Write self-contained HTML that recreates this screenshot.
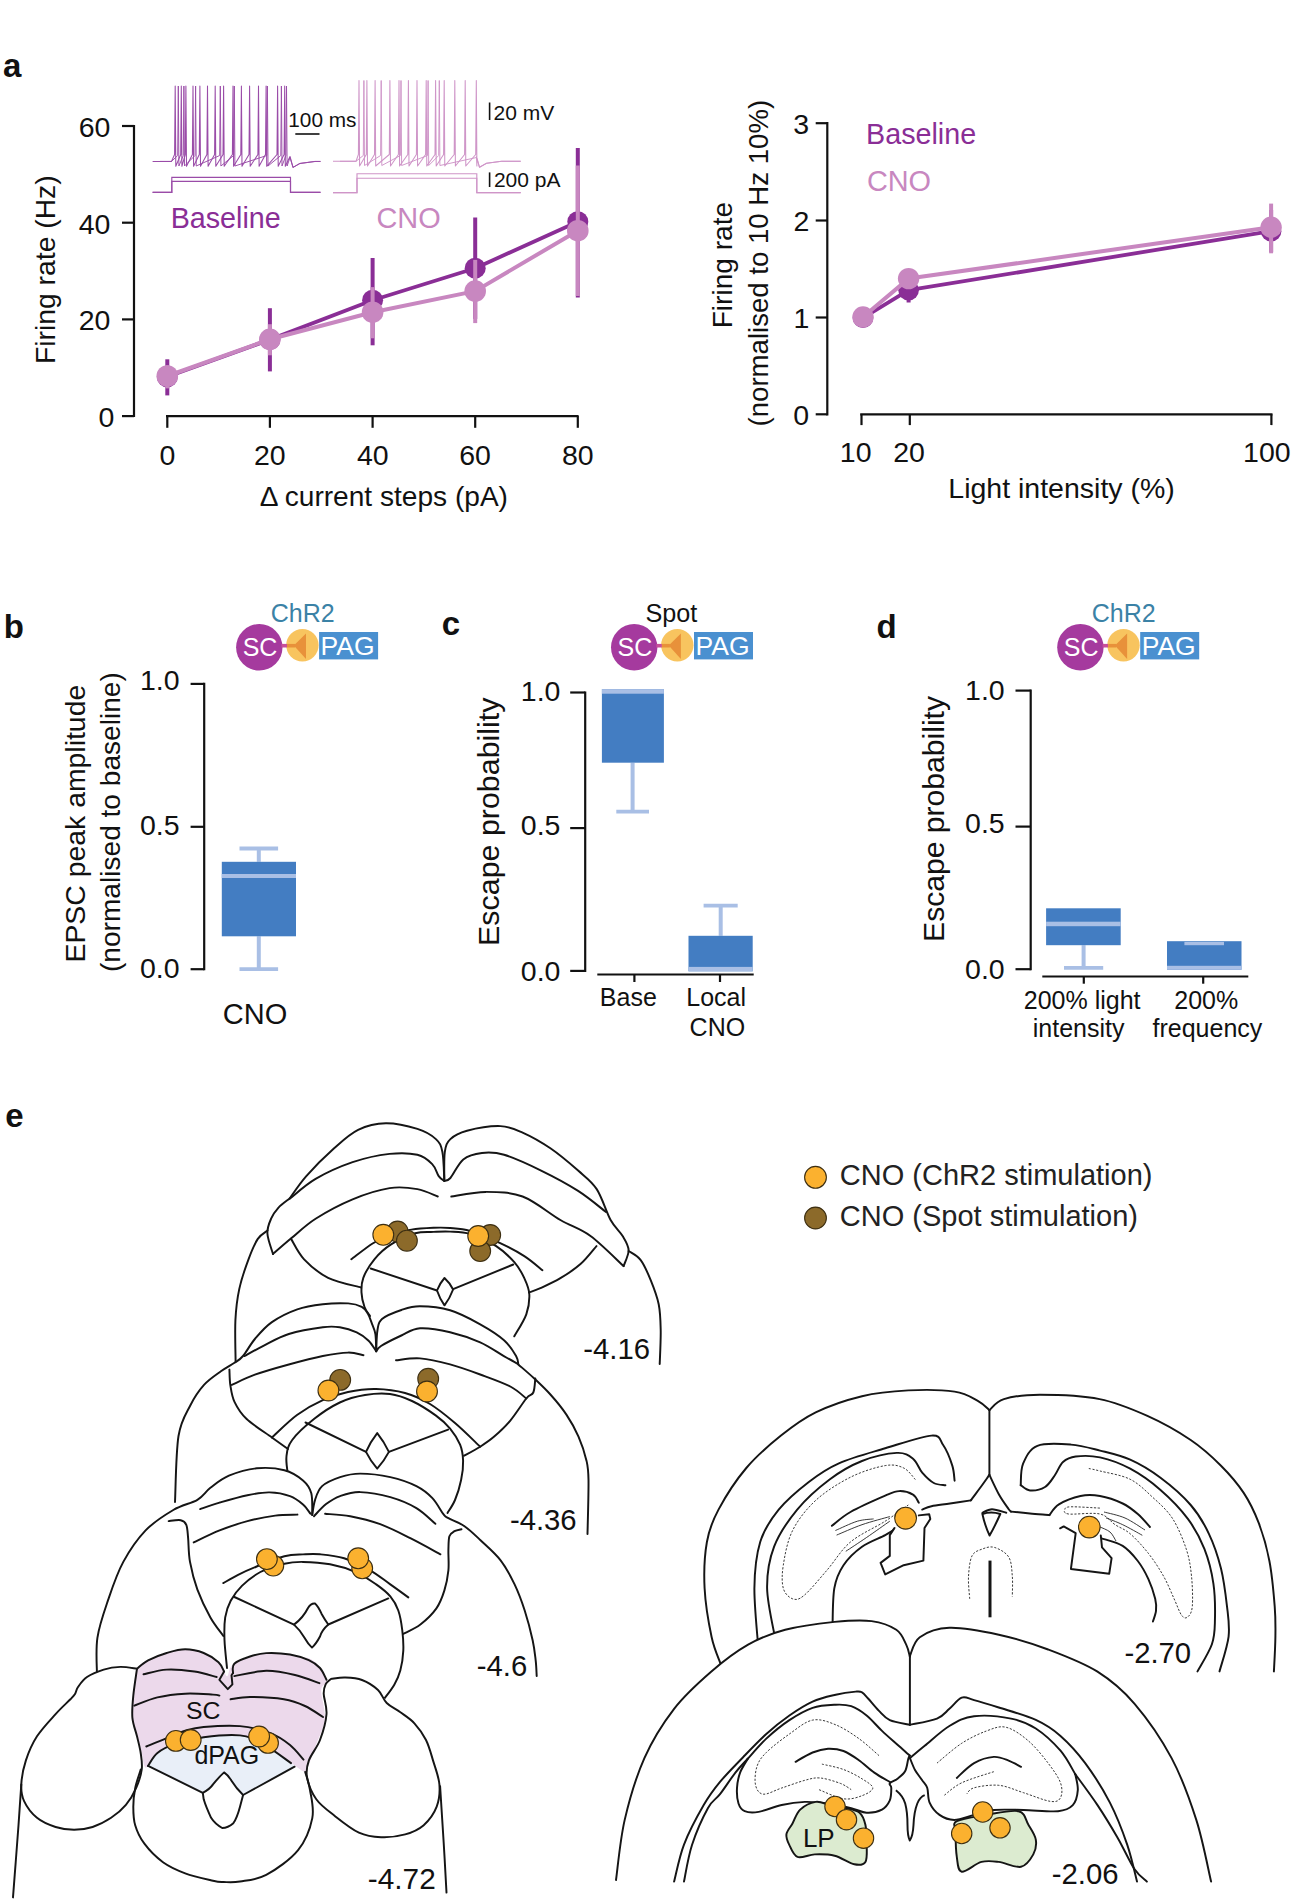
<!DOCTYPE html>
<html><head><meta charset="utf-8"><title>Figure</title>
<style>
html,body{margin:0;padding:0;background:#fff;}
svg{display:block;}
text{font-family:"Liberation Sans",sans-serif;}
</style></head><body>
<svg width="1296" height="1904" viewBox="0 0 1296 1904">
<rect width="1296" height="1904" fill="#fff"/>
<text x="2.9" y="76.9" font-size="33" text-anchor="start" fill="#111" font-weight="bold" >a</text>
<line x1="134" y1="125" x2="134" y2="417.1" stroke="#111" stroke-width="2.2" />
<line x1="122" y1="126" x2="134" y2="126" stroke="#111" stroke-width="2.2" />
<text x="78.7" y="136.9" font-size="28.5" text-anchor="start" fill="#111" >60</text>
<line x1="122" y1="222.7" x2="134" y2="222.7" stroke="#111" stroke-width="2.2" />
<text x="78.7" y="233.6" font-size="28.5" text-anchor="start" fill="#111" >40</text>
<line x1="122" y1="319.4" x2="134" y2="319.4" stroke="#111" stroke-width="2.2" />
<text x="78.7" y="330.3" font-size="28.5" text-anchor="start" fill="#111" >20</text>
<line x1="122" y1="416.1" x2="134" y2="416.1" stroke="#111" stroke-width="2.2" />
<text x="98.6" y="427" font-size="28.5" text-anchor="start" fill="#111" >0</text>
<line x1="166" y1="416.1" x2="578.6" y2="416.1" stroke="#111" stroke-width="2.2" />
<line x1="167.3" y1="416.1" x2="167.3" y2="427.8" stroke="#111" stroke-width="2.2" />
<text x="159.4" y="464.5" font-size="28.5" text-anchor="start" fill="#111" >0</text>
<line x1="269.9" y1="416.1" x2="269.9" y2="427.8" stroke="#111" stroke-width="2.2" />
<text x="253.9" y="464.5" font-size="28.5" text-anchor="start" fill="#111" >20</text>
<line x1="372.6" y1="416.1" x2="372.6" y2="427.8" stroke="#111" stroke-width="2.2" />
<text x="357" y="464.5" font-size="28.5" text-anchor="start" fill="#111" >40</text>
<line x1="475.2" y1="416.1" x2="475.2" y2="427.8" stroke="#111" stroke-width="2.2" />
<text x="459.2" y="464.5" font-size="28.5" text-anchor="start" fill="#111" >60</text>
<line x1="577.8" y1="416.1" x2="577.8" y2="427.8" stroke="#111" stroke-width="2.2" />
<text x="561.9" y="464.5" font-size="28.5" text-anchor="start" fill="#111" >80</text>
<text x="259.7" y="506.3" font-size="28.1" text-anchor="start" fill="#111" >Δ current steps (pA)</text>
<text x="54.7" y="364" font-size="28.3" text-anchor="start" fill="#111" transform="rotate(-90 54.7 364)" >Firing rate (Hz)</text>
<path d="M152.6 161.4 L171.5 161.4 L174.6 154.5 L175.2 86 L175.8 166.3 L180.7 154.5 L181.3 86 L181.9 166.3 L185.3 154.5 L185.9 86 L186.5 166.3 L192.4 154.5 L193 86 L193.6 166.3 L199.3 154.5 L199.9 86 L200.5 166.3 L206.9 154.5 L207.5 86 L208.1 166.3 L214.6 154.5 L215.2 86 L215.8 166.3 L223 154.5 L223.6 86 L224.2 166.3 L232.4 154.5 L233 86 L233.6 166.3 L240.8 154.5 L241.4 86 L242 166.3 L249 154.5 L249.6 86 L250.2 166.3 L257.9 154.5 L258.5 86 L259.1 166.3 L265.5 154.5 L266.1 86 L266.7 166.3 L277 154.5 L277.6 86 L278.2 166.3 L284.1 154.5 L284.7 86 L285.3 166.3 L290 156.5 L293 167.4 L300 163.4 L315 161.4 L320.5 161.4" fill="none" stroke="#9a4ca8" stroke-width="1.05" stroke-linejoin="round"/>
<path d="M160 161.4 L171.5 161.4 L177.7 155.5 L178.3 86 L178.9 166 L183.3 155.5 L183.9 86 L184.5 166 L195 155.5 L195.6 86 L196.2 166 L219.7 155.5 L220.3 86 L220.9 166 L233.7 155.5 L234.3 86 L234.9 166 L266.8 155.5 L267.4 86 L268 166 L280.8 155.5 L281.4 86 L282 166 L285.9 155.5 L286.5 86 L287.1 166 L290 157.5 L293 167.4 L300 163.4 L315 161.4 L320.5 161.4" fill="none" stroke="#9a4ca8" stroke-width="0.95" stroke-linejoin="round"/>
<path d="M333 161.3 L356 161.3 L358.4 154.5 L359 80.5 L359.6 166 L366.3 154.5 L366.9 80.5 L367.5 166 L374.5 154.5 L375.1 80.5 L375.7 166 L389.3 154.5 L389.9 80.5 L390.5 166 L398.4 154.5 L399 80.5 L399.6 166 L407.8 154.5 L408.4 80.5 L409 166 L416.4 154.5 L417 80.5 L417.6 166 L425.6 154.5 L426.2 80.5 L426.8 166 L435 154.5 L435.6 80.5 L436.2 166 L443.6 154.5 L444.2 80.5 L444.8 166 L454.2 154.5 L454.8 80.5 L455.4 166 L464.6 154.5 L465.2 80.5 L465.8 166 L475.7 154.5 L476.3 80.5 L476.9 166 L476.5 156.5 L479.5 167.3 L486.5 163.3 L501.5 161.3 L520.7 161.3" fill="none" stroke="#cf95c8" stroke-width="1.05" stroke-linejoin="round"/>
<path d="M340 161.3 L356 161.3 L363.3 155.5 L363.9 80.5 L364.5 165.5 L380.6 155.5 L381.2 80.5 L381.8 165.5 L400.4 155.5 L401 80.5 L401.6 165.5 L427.5 155.5 L428.1 80.5 L428.7 165.5 L438.7 155.5 L439.3 80.5 L439.9 165.5 L476.5 157.5 L479.5 167.3 L486.5 163.3 L501.5 161.3 L520.7 161.3" fill="none" stroke="#cf95c8" stroke-width="0.95" stroke-linejoin="round"/>
<path d="M152.6 192.3 H171.8 V177.3 H290.5 V192.3 H320.5" fill="none" stroke="#9a4ca8" stroke-width="1.15" />
<path d="M152.6 192.3 H171.8 V181.4 H290.5 V192.3 H320.5" fill="none" stroke="#9a4ca8" stroke-width="1.15" />
<path d="M333 192.6 H357 V173.7 H476.8 V192.6 H520.7" fill="none" stroke="#cf95c8" stroke-width="1.15" />
<path d="M333 192.6 H357 V178.2 H476.8 V192.6 H520.7" fill="none" stroke="#cf95c8" stroke-width="1.15" />
<line x1="295.3" y1="134" x2="319.5" y2="134" stroke="#111" stroke-width="1.6" />
<text x="288.3" y="127.2" font-size="20.8" text-anchor="start" fill="#111" >100 ms</text>
<line x1="489.6" y1="102.5" x2="489.6" y2="120" stroke="#111" stroke-width="1.6" />
<text x="493.5" y="120" font-size="21" text-anchor="start" fill="#111" >20 mV</text>
<line x1="489.6" y1="172.4" x2="489.6" y2="187" stroke="#111" stroke-width="1.6" />
<text x="493.9" y="186.9" font-size="21" text-anchor="start" fill="#111" >200 pA</text>
<text x="170.7" y="228.4" font-size="28.7" text-anchor="start" fill="#8a2e96" >Baseline</text>
<text x="376.5" y="228.2" font-size="28.9" text-anchor="start" fill="#c887c0" >CNO</text>
<path d="M167.3 376.8 L269.9 339.6 L372.6 300.2 L475.2 268.2 L577.8 221.7" fill="none" stroke="#8a2e96" stroke-width="3.8" stroke-linejoin="round"/>
<line x1="167.3" y1="359.3" x2="167.3" y2="395.4" stroke="#8a2e96" stroke-width="4" />
<line x1="269.9" y1="308.2" x2="269.9" y2="371.4" stroke="#8a2e96" stroke-width="4" />
<line x1="372.6" y1="258" x2="372.6" y2="345.3" stroke="#8a2e96" stroke-width="4" />
<line x1="475.2" y1="217.5" x2="475.2" y2="318.9" stroke="#8a2e96" stroke-width="4" />
<line x1="577.8" y1="148.1" x2="577.8" y2="297.4" stroke="#8a2e96" stroke-width="4" />
<circle cx="167.3" cy="376.8" r="10.5" fill="#8a2e96" stroke="none" stroke-width="0"/>
<circle cx="269.9" cy="339.6" r="10.5" fill="#8a2e96" stroke="none" stroke-width="0"/>
<circle cx="372.6" cy="300.2" r="10.5" fill="#8a2e96" stroke="none" stroke-width="0"/>
<circle cx="475.2" cy="268.2" r="10.5" fill="#8a2e96" stroke="none" stroke-width="0"/>
<circle cx="577.8" cy="221.7" r="10.5" fill="#8a2e96" stroke="none" stroke-width="0"/>
<path d="M167.3 376 L269.9 339.3 L372.6 312.2 L475.2 291.1 L577.8 230.7" fill="none" stroke="#c887c0" stroke-width="4" stroke-linejoin="round"/>
<line x1="167.3" y1="365.3" x2="167.3" y2="388.4" stroke="#c887c0" stroke-width="4" />
<line x1="269.9" y1="324.2" x2="269.9" y2="355.3" stroke="#c887c0" stroke-width="4" />
<line x1="372.6" y1="287.1" x2="372.6" y2="338.3" stroke="#c887c0" stroke-width="4" />
<line x1="475.2" y1="259.9" x2="475.2" y2="323.1" stroke="#c887c0" stroke-width="4" />
<line x1="577.8" y1="165.4" x2="577.8" y2="296" stroke="#c887c0" stroke-width="4" />
<circle cx="167.3" cy="376" r="10.8" fill="#c887c0" stroke="none" stroke-width="0"/>
<circle cx="269.9" cy="339.3" r="10.8" fill="#c887c0" stroke="none" stroke-width="0"/>
<circle cx="372.6" cy="312.2" r="10.8" fill="#c887c0" stroke="none" stroke-width="0"/>
<circle cx="475.2" cy="291.1" r="10.8" fill="#c887c0" stroke="none" stroke-width="0"/>
<circle cx="577.8" cy="230.7" r="10.8" fill="#c887c0" stroke="none" stroke-width="0"/>
<line x1="827.3" y1="122.1" x2="827.3" y2="415.4" stroke="#111" stroke-width="2.2" />
<line x1="815.7" y1="123.2" x2="827.3" y2="123.2" stroke="#111" stroke-width="2.2" />
<text x="793.3" y="134" font-size="28.5" text-anchor="start" fill="#111" >3</text>
<line x1="815.7" y1="220.5" x2="827.3" y2="220.5" stroke="#111" stroke-width="2.2" />
<text x="793.5" y="231.3" font-size="28.5" text-anchor="start" fill="#111" >2</text>
<line x1="815.7" y1="317.5" x2="827.3" y2="317.5" stroke="#111" stroke-width="2.2" />
<text x="793.4" y="328.3" font-size="28.5" text-anchor="start" fill="#111" >1</text>
<line x1="815.7" y1="414.3" x2="827.3" y2="414.3" stroke="#111" stroke-width="2.2" />
<text x="793.2" y="425.1" font-size="28.5" text-anchor="start" fill="#111" >0</text>
<line x1="860.2" y1="414.3" x2="1272.5" y2="414.3" stroke="#111" stroke-width="2.2" />
<line x1="861.5" y1="414.3" x2="861.5" y2="425.1" stroke="#111" stroke-width="2.2" />
<line x1="909.8" y1="414.3" x2="909.8" y2="425.1" stroke="#111" stroke-width="2.2" />
<line x1="1271.4" y1="414.3" x2="1271.4" y2="425.1" stroke="#111" stroke-width="2.2" />
<text x="839.8" y="462.3" font-size="28.5" text-anchor="start" fill="#111" >10</text>
<text x="893.2" y="462.3" font-size="28.5" text-anchor="start" fill="#111" >20</text>
<text x="1243.1" y="462.3" font-size="28.5" text-anchor="start" fill="#111" >100</text>
<text x="948.3" y="497.8" font-size="28.5" text-anchor="start" fill="#111" >Light intensity (%)</text>
<text x="732.1" y="328.3" font-size="28.1" text-anchor="start" fill="#111" transform="rotate(-90 732.1 328.3)" >Firing rate</text>
<text x="768.3" y="426.5" font-size="27.6" text-anchor="start" fill="#111" transform="rotate(-90 768.3 426.5)" >(normalised to 10 Hz 10%)</text>
<text x="866.1" y="144.3" font-size="28.7" text-anchor="start" fill="#8a2e96" >Baseline</text>
<text x="866.9" y="191.4" font-size="28.9" text-anchor="start" fill="#c887c0" >CNO</text>
<path d="M863 317.8 L908.6 290.2 L1271.1 231.2" fill="none" stroke="#8a2e96" stroke-width="3.8" stroke-linejoin="round"/>
<line x1="863" y1="317.8" x2="863" y2="317.8" stroke="#8a2e96" stroke-width="4" />
<line x1="908.6" y1="281" x2="908.6" y2="302.5" stroke="#8a2e96" stroke-width="4" />
<line x1="1271.1" y1="210" x2="1271.1" y2="252" stroke="#8a2e96" stroke-width="4" />
<circle cx="863" cy="317.8" r="10.3" fill="#8a2e96" stroke="none" stroke-width="0"/>
<circle cx="908.6" cy="290.2" r="10.3" fill="#8a2e96" stroke="none" stroke-width="0"/>
<circle cx="1271.1" cy="231.2" r="10.3" fill="#8a2e96" stroke="none" stroke-width="0"/>
<path d="M863 317 L908.6 278.6 L1271.1 227.3" fill="none" stroke="#c887c0" stroke-width="4" stroke-linejoin="round"/>
<line x1="863" y1="317" x2="863" y2="317" stroke="#c887c0" stroke-width="4" />
<line x1="908.6" y1="278.6" x2="908.6" y2="278.6" stroke="#c887c0" stroke-width="4" />
<line x1="1271.1" y1="203.6" x2="1271.1" y2="253.3" stroke="#c887c0" stroke-width="4" />
<circle cx="863" cy="317" r="10.7" fill="#c887c0" stroke="none" stroke-width="0"/>
<circle cx="908.6" cy="278.6" r="10.7" fill="#c887c0" stroke="none" stroke-width="0"/>
<circle cx="1271.1" cy="227.3" r="10.7" fill="#c887c0" stroke="none" stroke-width="0"/>
<circle cx="259.3" cy="647.3" r="23.2" fill="#a53a9e" stroke="none" stroke-width="0"/>
<circle cx="302.4" cy="645.3" r="16.2" fill="#f8c45f" stroke="none" stroke-width="0"/>
<path d="M293.8 645.6 L306 633.5 L306 659 Z" fill="#e8913a" stroke="none" stroke-width="0" />
<rect x="281.5" y="643.9" width="5.5" height="3.6" fill="#c8509a"/>
<rect x="287" y="643.9" width="8" height="3.6" fill="#e8913a"/>
<rect x="319.1" y="632" width="59" height="27.4" fill="#4a90d0"/>
<text x="242.7" y="656.1" font-size="25" text-anchor="start" fill="#fff" >SC</text>
<text x="320.6" y="655.2" font-size="26.5" text-anchor="start" fill="#fff" >PAG</text>
<text x="270.7" y="621.5" font-size="25" text-anchor="start" fill="#3b82a6" >ChR2</text>
<circle cx="634.2" cy="647.3" r="23.2" fill="#a53a9e" stroke="none" stroke-width="0"/>
<circle cx="677.3" cy="645.3" r="16.2" fill="#f8c45f" stroke="none" stroke-width="0"/>
<path d="M668.7 645.6 L680.9 633.5 L680.9 659 Z" fill="#e8913a" stroke="none" stroke-width="0" />
<rect x="656.4" y="643.9" width="5.5" height="3.6" fill="#c8509a"/>
<rect x="661.9" y="643.9" width="8" height="3.6" fill="#e8913a"/>
<rect x="694" y="632" width="59" height="27.4" fill="#4a90d0"/>
<text x="617.6" y="656.1" font-size="25" text-anchor="start" fill="#fff" >SC</text>
<text x="695.5" y="655.2" font-size="26.5" text-anchor="start" fill="#fff" >PAG</text>
<text x="645.4" y="622" font-size="25.2" text-anchor="start" fill="#111" >Spot</text>
<circle cx="1080.4" cy="647.3" r="23.2" fill="#a53a9e" stroke="none" stroke-width="0"/>
<circle cx="1123.5" cy="645.3" r="16.2" fill="#f8c45f" stroke="none" stroke-width="0"/>
<path d="M1114.9 645.6 L1127.1 633.5 L1127.1 659 Z" fill="#e8913a" stroke="none" stroke-width="0" />
<rect x="1102.6" y="643.9" width="5.5" height="3.6" fill="#c8509a"/>
<rect x="1108.1" y="643.9" width="8" height="3.6" fill="#e8913a"/>
<rect x="1140.2" y="632" width="59" height="27.4" fill="#4a90d0"/>
<text x="1063.8" y="656.1" font-size="25" text-anchor="start" fill="#fff" >SC</text>
<text x="1141.7" y="655.2" font-size="26.5" text-anchor="start" fill="#fff" >PAG</text>
<text x="1091.8" y="621.5" font-size="25" text-anchor="start" fill="#3b82a6" >ChR2</text>
<text x="3.8" y="637.9" font-size="33" text-anchor="start" fill="#111" font-weight="bold" >b</text>
<line x1="204.2" y1="682.8" x2="204.2" y2="970.3" stroke="#111" stroke-width="2.2" />
<line x1="190.6" y1="683.9" x2="204.2" y2="683.9" stroke="#111" stroke-width="2.2" />
<line x1="190.6" y1="826.8" x2="204.2" y2="826.8" stroke="#111" stroke-width="2.2" />
<line x1="190.6" y1="969.2" x2="204.2" y2="969.2" stroke="#111" stroke-width="2.2" />
<text x="140" y="690.3" font-size="28.5" text-anchor="start" fill="#111" >1.0</text>
<text x="140" y="835" font-size="28.5" text-anchor="start" fill="#111" >0.5</text>
<text x="140" y="977.9" font-size="28.5" text-anchor="start" fill="#111" >0.0</text>
<line x1="258.8" y1="848.5" x2="258.8" y2="861.8" stroke="#a9bfe5" stroke-width="4" />
<line x1="239.5" y1="848.5" x2="278.1" y2="848.5" stroke="#a9bfe5" stroke-width="3.8" />
<line x1="258.8" y1="936.3" x2="258.8" y2="969.1" stroke="#a9bfe5" stroke-width="4" />
<line x1="239.5" y1="969.1" x2="278.1" y2="969.1" stroke="#a9bfe5" stroke-width="3.8" />
<rect x="221.8" y="861.8" width="74.2" height="74.5" fill="#437dc2"/>
<rect x="221.8" y="874" width="74.2" height="4" fill="#a9bfe5"/>
<text x="222.8" y="1024.3" font-size="29" text-anchor="start" fill="#111" >CNO</text>
<text x="84.7" y="962.5" font-size="28.4" text-anchor="start" fill="#111" transform="rotate(-90 84.7 962.5)" >EPSC peak amplitude</text>
<text x="120.2" y="972" font-size="28.1" text-anchor="start" fill="#111" transform="rotate(-90 120.2 972)" >(normalised to baseline)</text>
<text x="441.7" y="634.7" font-size="33" text-anchor="start" fill="#111" font-weight="bold" >c</text>
<line x1="585.2" y1="691.4" x2="585.2" y2="972" stroke="#111" stroke-width="2.2" />
<line x1="570.2" y1="692.5" x2="585.2" y2="692.5" stroke="#111" stroke-width="2.2" />
<line x1="570.2" y1="828.1" x2="585.2" y2="828.1" stroke="#111" stroke-width="2.2" />
<line x1="570.2" y1="970.9" x2="585.2" y2="970.9" stroke="#111" stroke-width="2.2" />
<text x="520.8" y="700.5" font-size="28.5" text-anchor="start" fill="#111" >1.0</text>
<text x="520.8" y="834.5" font-size="28.5" text-anchor="start" fill="#111" >0.5</text>
<text x="520.8" y="981.3" font-size="28.5" text-anchor="start" fill="#111" >0.0</text>
<line x1="597.3" y1="974.5" x2="753.7" y2="974.5" stroke="#111" stroke-width="2.2" />
<line x1="634.4" y1="974.5" x2="634.4" y2="982" stroke="#111" stroke-width="2.2" />
<line x1="720" y1="974.5" x2="720" y2="982" stroke="#111" stroke-width="2.2" />
<line x1="632.6" y1="762.7" x2="632.6" y2="811.7" stroke="#a9bfe5" stroke-width="4" />
<line x1="616.3" y1="811.7" x2="649" y2="811.7" stroke="#a9bfe5" stroke-width="3.8" />
<rect x="601.9" y="689.1" width="62" height="73.6" fill="#437dc2"/>
<rect x="601.9" y="689.1" width="62" height="4.6" fill="#a9bfe5"/>
<line x1="720.7" y1="905.7" x2="720.7" y2="935.8" stroke="#a9bfe5" stroke-width="4" />
<line x1="703.6" y1="905.7" x2="737.7" y2="905.7" stroke="#a9bfe5" stroke-width="3.8" />
<rect x="688.5" y="935.8" width="64.2" height="35.5" fill="#437dc2"/>
<rect x="688.5" y="966.9" width="64.2" height="4.4" fill="#a9bfe5"/>
<text x="599.8" y="1006.4" font-size="25" text-anchor="start" fill="#111" >Base</text>
<text x="686.3" y="1006.4" font-size="25" text-anchor="start" fill="#111" >Local</text>
<text x="689.6" y="1035.6" font-size="25" text-anchor="start" fill="#111" >CNO</text>
<text x="499.4" y="945.9" font-size="30.4" text-anchor="start" fill="#111" transform="rotate(-90 499.4 945.9)" >Escape probability</text>
<text x="876.5" y="638" font-size="33" text-anchor="start" fill="#111" font-weight="bold" >d</text>
<line x1="1030.7" y1="689.5" x2="1030.7" y2="970.3" stroke="#111" stroke-width="2.2" />
<line x1="1015.5" y1="690.6" x2="1030.7" y2="690.6" stroke="#111" stroke-width="2.2" />
<line x1="1015.5" y1="826.6" x2="1030.7" y2="826.6" stroke="#111" stroke-width="2.2" />
<line x1="1015.5" y1="969.2" x2="1030.7" y2="969.2" stroke="#111" stroke-width="2.2" />
<text x="965.1" y="699.5" font-size="28.5" text-anchor="start" fill="#111" >1.0</text>
<text x="965.1" y="832.7" font-size="28.5" text-anchor="start" fill="#111" >0.5</text>
<text x="965.1" y="979.2" font-size="28.5" text-anchor="start" fill="#111" >0.0</text>
<line x1="1042.3" y1="976.5" x2="1248.3" y2="976.5" stroke="#111" stroke-width="2.2" />
<line x1="1083.8" y1="976.5" x2="1083.8" y2="983.7" stroke="#111" stroke-width="2.2" />
<line x1="1203.2" y1="976.5" x2="1203.2" y2="983.7" stroke="#111" stroke-width="2.2" />
<line x1="1083.6" y1="945.2" x2="1083.6" y2="967.8" stroke="#a9bfe5" stroke-width="4" />
<line x1="1064" y1="967.8" x2="1103.2" y2="967.8" stroke="#a9bfe5" stroke-width="3.8" />
<rect x="1046.1" y="908.3" width="74.6" height="36.9" fill="#437dc2"/>
<rect x="1046.1" y="921.7" width="74.6" height="4.5" fill="#a9bfe5"/>
<rect x="1167" y="941.2" width="74.5" height="28.6" fill="#437dc2"/>
<rect x="1184.4" y="941.9" width="39.6" height="3.3" fill="#a9bfe5"/>
<rect x="1167" y="965.8" width="74.5" height="4" fill="#a9bfe5"/>
<text x="1023.8" y="1008.5" font-size="25" text-anchor="start" fill="#111" >200% light</text>
<text x="1032.8" y="1037.2" font-size="25" text-anchor="start" fill="#111" >intensity</text>
<text x="1174.3" y="1008.5" font-size="25" text-anchor="start" fill="#111" >200%</text>
<text x="1152.5" y="1037.2" font-size="25" text-anchor="start" fill="#111" >frequency</text>
<text x="944.4" y="941.9" font-size="30.1" text-anchor="start" fill="#111" transform="rotate(-90 944.4 941.9)" >Escape probability</text>
<text x="5.2" y="1126.7" font-size="33" text-anchor="start" fill="#111" font-weight="bold" >e</text>
<path d="M289.6 1198.5 C292.4 1194.8 298.9 1184.5 306.3 1176.1 C313.7 1167.7 325.5 1156 334.1 1148.3 C342.7 1140.6 349.5 1134 358.1 1129.8 C366.7 1125.6 376 1123.4 385.9 1123.3 C395.8 1123.2 409.1 1126.3 417.4 1128.9 C425.7 1131.5 431.7 1135.2 435.9 1139.1 C440.1 1142.9 441 1145.2 442.4 1152 C443.8 1158.8 444 1175.3 444.3 1180" fill="none" stroke="#151515" stroke-width="1.95"  stroke-linecap="round" stroke-linejoin="round"/>
<path d="M289.6 1198.5 C287.8 1200 281.6 1204.2 278.5 1207.6 C275.4 1211 273 1214.4 271.1 1218.7 C269.2 1223 267.1 1227.6 267.4 1233.5 C267.7 1239.4 272.1 1250.6 273 1254" fill="none" stroke="#151515" stroke-width="1.95"  stroke-linecap="round" stroke-linejoin="round"/>
<path d="M267.5 1230.5 C265.9 1231.9 261 1234.1 257.8 1238.9 C254.6 1243.7 251.6 1251 248.5 1259.3 C245.4 1267.6 241.5 1278.7 239.3 1288.9 C237.1 1299.1 236 1308.2 235.4 1320.4 C234.8 1332.6 235.6 1355.1 235.6 1362" fill="none" stroke="#151515" stroke-width="1.95"  stroke-linecap="round" stroke-linejoin="round"/>
<path d="M290 1198.5 C294.3 1195.2 305.2 1185 315.6 1178.9 C326 1172.9 340.3 1166.4 352.6 1162.2 C364.9 1158 378.8 1155.1 389.6 1153.9 C400.4 1152.7 410.3 1153.1 417.4 1154.8 C424.5 1156.5 428.6 1160.5 432.2 1164.1 C435.8 1167.6 436.7 1173.3 438.7 1176.1 C440.7 1178.9 443.4 1180.2 444.3 1181" fill="none" stroke="#151515" stroke-width="1.95"  stroke-linecap="round" stroke-linejoin="round"/>
<path d="M273 1254 C276.1 1251.3 284.4 1244 291.5 1238.1 C298.6 1232.2 305.4 1225.2 315.6 1218.7 C325.8 1212.2 340.3 1204.4 352.6 1199.3 C364.9 1194.2 378.8 1189.8 389.6 1188.1 C400.4 1186.4 409.4 1187.7 417.4 1189.1 C425.4 1190.5 434.4 1195.3 437.8 1196.5" fill="none" stroke="#151515" stroke-width="1.95"  stroke-linecap="round" stroke-linejoin="round"/>
<path d="M291.1 1238.9 C293.3 1242.3 297.9 1252.8 304.1 1259.3 C310.3 1265.8 318.6 1273.1 328.1 1277.8 C337.6 1282.5 355.5 1285.9 361 1287.5" fill="none" stroke="#151515" stroke-width="1.95"  stroke-linecap="round" stroke-linejoin="round"/>
<path d="M444.3 1180 C444.4 1175.3 443.8 1158.8 444.8 1152 C445.8 1145.2 446.7 1142.6 450.4 1139.1 C454.1 1135.5 458.7 1132.9 467 1130.7 C475.3 1128.5 491.1 1125.8 500.4 1126.1 C509.7 1126.4 514.3 1128.9 522.6 1132.6 C530.9 1136.3 541.1 1142 550.4 1148.3 C559.6 1154.6 570.4 1163.8 578.1 1170.6 C585.8 1177.4 591.3 1180.9 596.7 1189.1 C602.1 1197.3 606.3 1212.2 610.6 1220 C614.9 1227.8 619.6 1231 622.6 1236 C625.6 1241 628.4 1245.1 628.6 1250.1 C628.8 1255.1 624.4 1263.4 623.6 1266.1" fill="none" stroke="#151515" stroke-width="1.95"  stroke-linecap="round" stroke-linejoin="round"/>
<path d="M444.3 1181 C445.3 1180.5 447.2 1181.6 450.4 1178 C453.6 1174.4 458.1 1163.6 463.3 1159.4 C468.6 1155.2 475.1 1153.8 481.9 1153 C488.7 1152.2 494.2 1151.9 504.1 1154.8 C514 1157.7 528.8 1164.6 541.1 1170.6 C553.4 1176.6 567.3 1184 578.1 1190.9 C588.9 1197.8 601.4 1208.5 606 1212" fill="none" stroke="#151515" stroke-width="1.95"  stroke-linecap="round" stroke-linejoin="round"/>
<path d="M451.3 1196.5 C457 1195.7 473.7 1191.9 485.6 1191.9 C497.5 1191.9 510.1 1191.8 522.6 1196.5 C535.1 1201.2 549.1 1213.4 560.4 1220 C571.7 1226.6 580 1228.3 590.5 1236 C601 1243.7 618.1 1261.1 623.6 1266.1" fill="none" stroke="#151515" stroke-width="1.95"  stroke-linecap="round" stroke-linejoin="round"/>
<path d="M628.6 1251 C630.6 1252.5 637 1255.2 640.7 1260.1 C644.4 1265 647.7 1272.8 650.7 1280.2 C653.7 1287.6 657 1296 658.7 1304.3 C660.4 1312.6 660.5 1320.3 660.7 1330.3 C660.9 1340.2 659.9 1358.4 659.7 1364" fill="none" stroke="#151515" stroke-width="1.95"  stroke-linecap="round" stroke-linejoin="round"/>
<path d="M596.5 1246.1 C593.8 1249.1 586.5 1258.8 580.5 1264.1 C574.5 1269.4 567.1 1274.2 560.4 1278.2 C553.7 1282.2 545.6 1285.8 540.4 1288.2 C535.2 1290.6 530.9 1291.8 529 1292.5" fill="none" stroke="#151515" stroke-width="1.95"  stroke-linecap="round" stroke-linejoin="round"/>
<path d="M351.3 1259.3 C354.9 1256.7 366 1247.7 372.6 1243.5 C379.2 1239.3 384.6 1236.6 391.1 1234.3 C397.6 1232 404.4 1230.7 411.5 1229.6 C418.6 1228.5 427.3 1228.1 433.7 1227.8 C440.1 1227.5 444 1227.5 450.1 1228 C456.2 1228.5 461.9 1228.5 470.2 1231 C478.5 1233.5 491.2 1238.9 500.2 1243.1 C509.2 1247.3 517.3 1251.6 524.3 1256.1 C531.3 1260.6 539.4 1267.8 542.4 1270.2" fill="none" stroke="#151515" stroke-width="1.95"  stroke-linecap="round" stroke-linejoin="round"/>
<path d="M370 1316 C369.1 1314.5 365.9 1310.9 364.5 1307 C363.1 1303.1 361.7 1297.5 361.5 1292.6 C361.3 1287.7 361.2 1283.3 363.3 1277.8 C365.4 1272.2 369.8 1264.9 374.4 1259.3 C379 1253.7 384.3 1248.7 391.1 1244.4 C397.9 1240.1 408.1 1235.4 415.2 1233.3 C422.3 1231.2 427.9 1232.2 433.7 1231.9 C439.5 1231.6 444 1231.2 450.1 1231.6 C456.2 1231.9 462.5 1231.6 470.2 1234 C477.9 1236.4 488.9 1241.4 496.2 1246.1 C503.5 1250.8 509.6 1256.8 514.3 1262.1 C519 1267.4 521.8 1272.8 524.3 1278.2 C526.8 1283.6 529 1288.2 529.3 1294.2 C529.6 1300.2 528.8 1307.3 526.3 1314.3 C523.8 1321.3 516.3 1332.6 514.3 1336.3" fill="none" stroke="#151515" stroke-width="1.95"  stroke-linecap="round" stroke-linejoin="round"/>
<path d="M370.7 1268.5 L437 1290.5" fill="none" stroke="#151515" stroke-width="1.95" stroke-linejoin="round" stroke-linecap="round"/>
<path d="M453.1 1289.2 L513.3 1264.5" fill="none" stroke="#151515" stroke-width="1.95" stroke-linejoin="round" stroke-linecap="round"/>
<path d="M444.5 1278 Q449.8 1282.8 453.1 1289.5 Q449.8 1298.4 444.5 1305.3 Q439.8 1298.9 437 1290.5 Q439.8 1283.2 444.5 1278 Z" fill="#fff" stroke="#151515" stroke-width="1.95" stroke-linejoin="round"/>
<circle cx="397.6" cy="1231.5" r="10.4" fill="#8c6a2a" stroke="#3d2f12" stroke-width="1.1"/>
<circle cx="406.9" cy="1240.7" r="10.4" fill="#8c6a2a" stroke="#3d2f12" stroke-width="1.1"/>
<circle cx="383.3" cy="1234.8" r="10.4" fill="#fbb12f" stroke="#3d2f12" stroke-width="1.1"/>
<circle cx="490.2" cy="1235" r="10.4" fill="#8c6a2a" stroke="#3d2f12" stroke-width="1.1"/>
<circle cx="480.2" cy="1251.1" r="10.4" fill="#8c6a2a" stroke="#3d2f12" stroke-width="1.1"/>
<circle cx="478.2" cy="1236" r="10.4" fill="#fbb12f" stroke="#3d2f12" stroke-width="1.1"/>
<text x="583.2" y="1359.4" font-size="29.3" text-anchor="start" fill="#111" >-4.16</text>
<path d="M175 1560 C106.1 1550.3 174.4 1522.7 175 1502 C175.6 1481.3 175.9 1452.1 178.5 1436 C181.1 1419.9 186.2 1413.7 190.4 1405.2 C194.7 1396.7 198.9 1390.6 204 1384.9 C209.1 1379.2 215.8 1375 220.9 1371.3 C226 1367.6 230.8 1365.3 234.5 1362.8 C238.2 1360.2 239.6 1360 243 1356 C246.4 1352 250.1 1344.7 254.9 1339 C259.7 1333.3 264.8 1327 271.9 1322.1 C279 1317.1 288.8 1312.3 297.3 1309.3 C305.8 1306.3 314.3 1305.2 322.8 1304.2 C331.3 1303.2 341.7 1303 348.2 1303.4 C354.7 1303.8 358.5 1305.1 361.8 1306.8 C365.1 1308.5 366.1 1310.8 367.8 1313.6 C369.5 1316.4 370.6 1318.6 372 1323.8 C373.4 1329 374.9 1345.4 376.2 1345 C377.5 1344.6 375.8 1327 380 1321.3 C384.2 1315.6 389.7 1312.4 401.4 1310.6 C413.1 1308.8 437 1308 450.1 1310.3 C463.2 1312.6 471.2 1319.3 480.2 1324.3 C489.2 1329.3 498 1333.7 504.3 1340.4 C510.6 1347.1 513.3 1358.1 518.3 1364.4 C523.3 1370.8 528.9 1373.5 534.3 1378.5 C539.6 1383.5 545 1388.5 550.4 1394.5 C555.8 1400.5 561.7 1407.6 566.4 1414.6 C571.1 1421.6 575.1 1428.9 578.5 1436.6 C581.9 1444.3 584.8 1450.1 586.5 1460.7 C588.2 1471.3 588.2 1483.5 588.5 1500 C588.8 1516.5 657.4 1550 588.5 1560 C519.6 1570 243.9 1569.7 175 1560Z" fill="#fff" stroke="none" stroke-width="0" />
<path d="M175 1502 C175.6 1491 175.9 1452.1 178.5 1436 C181.1 1419.9 186.2 1413.7 190.4 1405.2 C194.7 1396.7 198.9 1390.6 204 1384.9 C209.1 1379.2 215.8 1375 220.9 1371.3 C226 1367.6 230.8 1365.3 234.5 1362.8 C238.2 1360.2 239.6 1360 243 1356 C246.4 1352 250.1 1344.7 254.9 1339 C259.7 1333.3 264.8 1327 271.9 1322.1 C279 1317.1 288.8 1312.3 297.3 1309.3 C305.8 1306.3 314.3 1305.2 322.8 1304.2 C331.3 1303.2 341.7 1303 348.2 1303.4 C354.7 1303.8 358.5 1305.1 361.8 1306.8 C365.1 1308.5 366.1 1310.8 367.8 1313.6 C369.5 1316.4 370.7 1320.4 372 1323.8 C373.3 1327.2 374.7 1329.5 375.4 1334 C376.1 1338.5 376.1 1348.2 376.2 1351" fill="none" stroke="#151515" stroke-width="1.95"  stroke-linecap="round" stroke-linejoin="round"/>
<path d="M244.7 1356 C247.8 1354.3 256 1349.5 263.4 1345.8 C270.8 1342.1 278.9 1337.1 288.8 1334 C298.7 1330.9 314.3 1328.3 322.8 1327.2 C331.3 1326.1 334.2 1326.4 339.8 1327.2 C345.4 1328 351.9 1330 356.7 1332.3 C361.5 1334.5 365.4 1337.6 368.6 1340.7 C371.8 1343.8 374.8 1349.3 376 1351" fill="none" stroke="#151515" stroke-width="1.95"  stroke-linecap="round" stroke-linejoin="round"/>
<path d="M229.4 1369.6 C229.6 1372.1 229.5 1379.5 230.3 1384.9 C231.2 1390.3 231.8 1396.2 234.5 1401.9 C237.2 1407.6 240.2 1412.9 246.4 1418.8 C252.6 1424.7 265 1432.5 271.9 1437.5 C278.8 1442.5 285.3 1447.1 288 1449" fill="none" stroke="#151515" stroke-width="1.95"  stroke-linecap="round" stroke-linejoin="round"/>
<path d="M231.8 1384.9 C235.7 1383.2 245.4 1378.1 254.9 1374.7 C264.4 1371.3 277.5 1367.6 288.8 1364.5 C300.1 1361.4 312.9 1358 322.8 1356 C332.7 1354 341.4 1352.7 348.2 1352.6 C355 1352.5 360.9 1354.8 363.5 1355.2" fill="none" stroke="#151515" stroke-width="1.95"  stroke-linecap="round" stroke-linejoin="round"/>
<path d="M376.2 1351 C376.4 1347.5 376.5 1335.3 377.5 1330 C378.5 1324.7 378 1322.3 382 1319 C386 1315.7 395.1 1312.1 401.4 1310 C407.7 1307.9 411.9 1306.2 420 1306.3 C428.1 1306.3 440.1 1307.3 450.1 1310.3 C460.1 1313.3 471.2 1319.3 480.2 1324.3 C489.2 1329.3 498.3 1335.1 504.3 1340.4 C510.3 1345.8 514 1352.4 516.3 1356.4 C518.6 1360.4 518 1363.1 518.3 1364.4" fill="none" stroke="#151515" stroke-width="1.95"  stroke-linecap="round" stroke-linejoin="round"/>
<path d="M518.3 1364.4 C521 1366.8 528.9 1373.5 534.3 1378.5 C539.6 1383.5 545 1388.5 550.4 1394.5 C555.8 1400.5 561.7 1407.6 566.4 1414.6 C571.1 1421.6 575.1 1428.9 578.5 1436.6 C581.9 1444.3 584.8 1453.5 586.5 1460.7 C588.2 1467.9 588.3 1467.8 588.5 1480 C588.7 1492.2 587.7 1525 587.5 1534" fill="none" stroke="#151515" stroke-width="1.95"  stroke-linecap="round" stroke-linejoin="round"/>
<path d="M376.2 1351.5 C377 1350.6 376.8 1348.7 381 1346 C385.2 1343.3 394.9 1338.5 401.4 1335.5 C407.9 1332.5 411.9 1328.8 420 1328.3 C428.1 1327.8 440.1 1329.9 450.1 1332.3 C460.1 1334.7 471.2 1338.4 480.2 1342.4 C489.2 1346.4 498 1352.8 504.3 1356.4 C510.6 1360 515.7 1362.7 518 1364" fill="none" stroke="#151515" stroke-width="1.95"  stroke-linecap="round" stroke-linejoin="round"/>
<path d="M396 1360.3 C400 1360 411 1357.7 420 1358.4 C429 1359.1 440.1 1361.7 450.1 1364.4 C460.1 1367.1 470.2 1370.8 480.2 1374.5 C490.2 1378.2 502.6 1382.5 510.3 1386.5 C518 1390.5 523.6 1396.5 526.3 1398.5" fill="none" stroke="#151515" stroke-width="1.95"  stroke-linecap="round" stroke-linejoin="round"/>
<path d="M535.3 1378.5 C535 1380.8 534.8 1389.2 533.3 1392.5 C531.8 1395.8 530.1 1393.8 526.3 1398.5 C522.5 1403.2 515.6 1414.2 510.3 1420.6 C505 1426.9 499.2 1432.2 494.2 1436.6 C489.2 1440.9 485.2 1443.5 480.2 1446.7 C475.2 1449.9 466.8 1454.2 464.1 1455.7" fill="none" stroke="#151515" stroke-width="1.95"  stroke-linecap="round" stroke-linejoin="round"/>
<path d="M271.9 1437.5 C276.1 1433.8 288.5 1421.2 297 1415 C305.5 1408.8 314.3 1404 322.8 1400.2 C331.3 1396.4 339.1 1393.9 348 1392 C356.9 1390.1 366.5 1388.8 376 1389 C385.5 1389.2 396 1390.5 405 1393 C414 1395.5 421.7 1399 430 1404 C438.3 1409 446.6 1415.9 455 1423 C463.4 1430.1 476 1442.8 480.2 1446.7" fill="none" stroke="#151515" stroke-width="1.95"  stroke-linecap="round" stroke-linejoin="round"/>
<path d="M292 1500 C291.3 1495.7 288.7 1481.2 287.8 1473.9 C286.9 1466.6 285.8 1461.7 286.5 1456 C287.2 1450.3 287.6 1446.2 292.2 1440 C296.8 1433.8 306.4 1425 314.3 1418.8 C322.2 1412.5 331.4 1406.5 339.8 1402.5 C348.2 1398.5 356.6 1396.4 365 1395 C373.4 1393.6 382.2 1393 390 1394 C397.8 1395 404.3 1397.4 412 1401 C419.7 1404.6 429.6 1411 436 1415.6 C442.4 1420.2 446.1 1423.8 450.1 1428.6 C454.1 1433.4 457.9 1439.3 460.1 1444.7 C462.3 1450.1 462.9 1454.8 463.1 1460.7 C463.3 1466.6 462.5 1473.5 461.1 1480 C459.8 1486.5 457.3 1494.5 455 1500 C452.7 1505.5 448.8 1510.8 447.5 1513" fill="none" stroke="#151515" stroke-width="1.95"  stroke-linecap="round" stroke-linejoin="round"/>
<path d="M305.5 1422.5 L366 1451.9" fill="none" stroke="#151515" stroke-width="1.95" stroke-linejoin="round" stroke-linecap="round"/>
<path d="M388.9 1451.9 L448.1 1429.6" fill="none" stroke="#151515" stroke-width="1.95" stroke-linejoin="round" stroke-linecap="round"/>
<path d="M377.2 1433.1 Q384 1441.5 388.9 1451.9 Q384 1461.2 377.2 1468.6 Q370.6 1461.2 366 1451.9 Q370.6 1441.5 377.2 1433.1 Z" fill="#fff" stroke="#151515" stroke-width="1.95" stroke-linejoin="round"/>
<circle cx="340.2" cy="1379.9" r="10.4" fill="#8c6a2a" stroke="#3d2f12" stroke-width="1.1"/>
<circle cx="328.4" cy="1390.5" r="10.4" fill="#fbb12f" stroke="#3d2f12" stroke-width="1.1"/>
<circle cx="428.2" cy="1378.8" r="10.4" fill="#8c6a2a" stroke="#3d2f12" stroke-width="1.1"/>
<circle cx="427" cy="1391.5" r="10.4" fill="#fbb12f" stroke="#3d2f12" stroke-width="1.1"/>
<text x="509.9" y="1530.2" font-size="29.3" text-anchor="start" fill="#111" >-4.36</text>
<path d="M96 1700 C22.7 1696 96.8 1686.4 97 1676 C97.2 1665.6 95.5 1650.6 97.4 1637.8 C99.3 1625 104.2 1611.6 108.5 1598.9 C112.8 1586.2 117.1 1573.3 123.3 1561.9 C129.5 1550.5 137.3 1539.1 145.6 1530.4 C153.9 1521.8 164.7 1515.1 173.3 1510 C181.9 1504.9 191.2 1503.5 197.4 1499.8 C203.6 1496.1 205.2 1491.8 210.4 1487.8 C215.7 1483.8 221.2 1479 228.9 1475.7 C236.6 1472.5 247.4 1469.2 256.7 1468.3 C265.9 1467.4 276.7 1468.2 284.4 1470.2 C292.1 1472.2 298.5 1476.6 303 1480.4 C307.5 1484.2 309.8 1488.4 311.3 1493.3 C312.8 1498.2 311.6 1508.9 312.2 1510 C312.8 1511.1 313.4 1504.1 315 1500.1 C316.6 1496.1 317.9 1489.9 322.1 1486.1 C326.3 1482.3 333.8 1479.2 340.1 1477.1 C346.5 1475 351.8 1473.6 360.2 1473.6 C368.6 1473.6 380.9 1475 390.3 1477.1 C399.7 1479.2 409.4 1482.6 416.4 1486.1 C423.4 1489.6 427.9 1493.4 432.4 1498.1 C436.9 1502.8 438 1509.5 443.4 1514.2 C448.8 1518.9 458.3 1521.9 464.5 1526.2 C470.7 1530.5 474.5 1534.5 480.5 1540.2 C486.5 1545.9 494.9 1552.9 500.6 1560.3 C506.3 1567.7 510.6 1576 514.6 1584.4 C518.6 1592.8 521.7 1601.2 524.7 1610.5 C527.7 1619.8 530.7 1629.6 532.7 1640.5 C534.7 1651.4 536 1666.1 536.7 1676 C537.4 1685.9 610.5 1696 537 1700 C463.6 1704 169.3 1704 96 1700Z" fill="#fff" stroke="none" stroke-width="0" />
<path d="M97 1676 C97.1 1669.6 95.5 1650.6 97.4 1637.8 C99.3 1625 104.2 1611.6 108.5 1598.9 C112.8 1586.2 117.1 1573.3 123.3 1561.9 C129.5 1550.5 137.3 1539.1 145.6 1530.4 C153.9 1521.8 164.7 1515.1 173.3 1510 C181.9 1504.9 191.2 1503.5 197.4 1499.8 C203.6 1496.1 205.2 1491.8 210.4 1487.8 C215.7 1483.8 221.2 1479 228.9 1475.7 C236.6 1472.5 247.4 1469.2 256.7 1468.3 C265.9 1467.4 276.7 1468.2 284.4 1470.2 C292.1 1472.2 298.5 1476.6 303 1480.4 C307.5 1484.2 309.8 1487.5 311.3 1493.3 C312.8 1499.1 312.1 1511.4 312.2 1515" fill="none" stroke="#151515" stroke-width="1.95"  stroke-linecap="round" stroke-linejoin="round"/>
<path d="M200.2 1509.1 C203.4 1508 211.7 1504.9 219.6 1502.6 C227.5 1500.3 239.1 1496.9 247.4 1495.2 C255.7 1493.5 262.5 1492.2 269.6 1492.4 C276.7 1492.6 284.4 1494.1 290 1496.1 C295.6 1498.1 299.6 1501.5 303 1504.4 C306.4 1507.3 309.2 1512.2 310.4 1513.7" fill="none" stroke="#151515" stroke-width="1.95"  stroke-linecap="round" stroke-linejoin="round"/>
<path d="M193.7 1542.4 C198 1540.4 210.6 1534 219.6 1530.4 C228.6 1526.9 238.1 1523.6 247.4 1521.1 C256.7 1518.6 266.9 1516.7 275.2 1515.6 C283.5 1514.5 293.7 1514.8 297.4 1514.6" fill="none" stroke="#151515" stroke-width="1.95"  stroke-linecap="round" stroke-linejoin="round"/>
<path d="M168.7 1521.1 C170.7 1520.9 177.8 1519.6 180.7 1520.2 C183.6 1520.8 185.1 1521.9 186.3 1524.8 C187.5 1527.7 187.5 1531.6 188.1 1537.8 C188.7 1544 188.4 1553.3 190 1561.9 C191.6 1570.5 194 1580.3 197.4 1589.6 C200.8 1598.8 206.1 1609.7 210.4 1617.4 C214.7 1625.1 221.2 1632.8 223.3 1635.9" fill="none" stroke="#151515" stroke-width="1.95"  stroke-linecap="round" stroke-linejoin="round"/>
<path d="M312.2 1515 C312.7 1512.5 313.4 1504.9 315 1500.1 C316.6 1495.3 317.9 1489.9 322.1 1486.1 C326.3 1482.3 333.8 1479.2 340.1 1477.1 C346.5 1475 351.8 1473.6 360.2 1473.6 C368.6 1473.6 380.9 1475 390.3 1477.1 C399.7 1479.2 409.4 1482.6 416.4 1486.1 C423.4 1489.6 427.9 1493.4 432.4 1498.1 C436.9 1502.8 440.7 1510.8 443.4 1514.2 C446.1 1517.6 444.9 1516.2 448.4 1518.2 C451.9 1520.2 459.1 1522.5 464.5 1526.2 C469.9 1529.9 474.5 1534.5 480.5 1540.2 C486.5 1545.9 494.9 1552.9 500.6 1560.3 C506.3 1567.7 510.6 1576 514.6 1584.4 C518.6 1592.8 521.7 1601.2 524.7 1610.5 C527.7 1619.8 530.9 1632.2 532.7 1640.5 C534.5 1648.8 535 1654.7 535.7 1660.6 C536.4 1666.5 536.5 1673.4 536.7 1676" fill="none" stroke="#151515" stroke-width="1.95"  stroke-linecap="round" stroke-linejoin="round"/>
<path d="M314 1516.2 C316 1514.2 321.8 1507.4 326.1 1504.1 C330.5 1500.8 334.4 1498.1 340.1 1496.1 C345.8 1494.1 351.8 1491.9 360.2 1492.1 C368.6 1492.3 380.9 1494.4 390.3 1497.1 C399.7 1499.8 408.9 1503.6 416.4 1508.1 C423.9 1512.5 432.2 1521.2 435.4 1523.8" fill="none" stroke="#151515" stroke-width="1.95"  stroke-linecap="round" stroke-linejoin="round"/>
<path d="M325.1 1513.8 C329.3 1514.2 341 1514.5 350.2 1516.2 C359.4 1517.9 370.2 1520.5 380.2 1524.2 C390.2 1527.9 400.3 1533.2 410.3 1538.2 C420.3 1543.2 435.4 1551.6 440.4 1554.3" fill="none" stroke="#151515" stroke-width="1.95"  stroke-linecap="round" stroke-linejoin="round"/>
<path d="M461.5 1529.2 C460.3 1529.5 456.5 1530 454.5 1531.2 C452.5 1532.4 450.4 1533 449.4 1536.2 C448.4 1539.4 448.6 1544.6 448.4 1550.3 C448.2 1556 449.1 1563.6 448.4 1570.3 C447.7 1577 446.4 1584.1 444.4 1590.4 C442.4 1596.8 440.4 1602.7 436.4 1608.4 C432.4 1614.1 426 1620.2 420.4 1624.5 C414.8 1628.8 405.9 1632.4 403 1634" fill="none" stroke="#151515" stroke-width="1.95"  stroke-linecap="round" stroke-linejoin="round"/>
<path d="M223.3 1583.1 C225.8 1581.7 232.5 1577.6 238.1 1574.8 C243.7 1572 249 1569.6 256.7 1566.5 C264.4 1563.4 276.7 1558.3 284.4 1556.3 C292.1 1554.3 297.1 1554.7 303 1554.4 C308.9 1554.1 313.2 1553.7 320.1 1554.3 C327 1554.9 335.8 1555.6 344.1 1558.3 C352.5 1561 362.5 1565.9 370.2 1570.3 C377.9 1574.7 383.9 1579.9 390.3 1584.4 C396.7 1588.9 405.3 1595.2 408.3 1597.4" fill="none" stroke="#151515" stroke-width="1.95"  stroke-linecap="round" stroke-linejoin="round"/>
<path d="M227 1668 C226.6 1663.3 224.8 1648.4 224.5 1640 C224.2 1631.6 224.2 1624 225.2 1617.4 C226.2 1610.9 227.9 1606 230.7 1600.7 C233.5 1595.5 237 1590.7 241.9 1585.9 C246.8 1581.1 253.3 1575.7 260.4 1572 C267.5 1568.3 277.3 1565.4 284.4 1563.7 C291.5 1562 295.4 1561.8 303 1561.9 C310.6 1562 321.2 1562.6 330.1 1564.3 C339 1566 348.5 1568.9 356.2 1572.3 C363.9 1575.7 370.5 1580.4 376.2 1584.4 C381.9 1588.4 386.6 1592.1 390.3 1596.4 C394 1600.8 396.3 1604.8 398.3 1610.5 C400.3 1616.2 401.5 1623.8 402.3 1630.5 C403.1 1637.2 403.6 1643.9 403.3 1650.6 C403 1657.3 401.8 1664.9 400.3 1670.6 C398.8 1676.3 397 1680 394.3 1684.7 C391.6 1689.4 386 1696.4 384.3 1698.7" fill="none" stroke="#151515" stroke-width="1.95"  stroke-linecap="round" stroke-linejoin="round"/>
<path d="M234.4 1597 L294 1624.6" fill="none" stroke="#151515" stroke-width="1.95" stroke-linejoin="round" stroke-linecap="round"/>
<path d="M328.3 1624.5 L388.3 1598.4" fill="none" stroke="#151515" stroke-width="1.95" stroke-linejoin="round" stroke-linecap="round"/>
<path d="M294 1624.6 Q303 1618 308 1608 Q311 1603 315 1603.5 Q318 1606 321.5 1613.7 Q325 1620 328.3 1624.5 Q322 1630 320 1636.5 Q316 1644 312 1647.6 Q308 1644 304 1637 Q300 1630 294 1624.6Z" fill="#fff" stroke="#151515" stroke-width="1.95" stroke-linejoin="round"/>
<circle cx="273.3" cy="1565.6" r="10.4" fill="#fbb12f" stroke="#3d2f12" stroke-width="1.1"/>
<circle cx="266.9" cy="1559.1" r="10.4" fill="#fbb12f" stroke="#3d2f12" stroke-width="1.1"/>
<circle cx="362.2" cy="1568.3" r="10.4" fill="#fbb12f" stroke="#3d2f12" stroke-width="1.1"/>
<circle cx="358.2" cy="1558.3" r="10.4" fill="#fbb12f" stroke="#3d2f12" stroke-width="1.1"/>
<text x="476.8" y="1675.6" font-size="29.3" text-anchor="start" fill="#111" >-4.6</text>
<path d="M12 1904 C-60.4 1902.9 12.4 1904.4 13 1897.4 C13.6 1890.4 14.8 1874.2 15.7 1862.2 C16.6 1850.2 17.6 1838.2 18.5 1825.2 C19.4 1812.2 20.1 1795.2 21.3 1784.4 C22.5 1773.6 23.3 1768.4 25.9 1760.4 C28.5 1752.4 32 1744 37 1736.3 C42 1728.6 50 1720.3 55.6 1714.1 C61.2 1707.9 67 1703.3 70.4 1699.3 C73.8 1695.3 73.1 1693.7 75.9 1690 C78.7 1686.3 82.4 1680.4 87 1677 C91.6 1673.6 98.1 1671.3 103.7 1669.6 C109.3 1667.9 114.9 1667.1 120.4 1666.9 C126 1666.8 132.4 1669.8 137 1668.7 C141.6 1667.6 143.2 1663 148.1 1660.4 C153 1657.8 160.5 1654.8 166.7 1653 C172.9 1651.2 179 1649.3 185.2 1649.3 C191.4 1649.3 198.1 1650.8 203.7 1653 C209.2 1655.2 215.1 1659.1 218.5 1662.2 C221.9 1665.3 222.6 1669.4 224.1 1671.5 C225.6 1673.6 225.8 1676.3 227.5 1675 C229.2 1673.7 227.9 1667.4 234.3 1663.7 C240.8 1660 253.8 1653.7 266.2 1653.1 C278.6 1652.5 298.8 1655.8 308.8 1660.2 C318.9 1664.6 318.8 1676.8 326.5 1679.7 C334.2 1682.7 345.4 1675 354.9 1677.9 C364.4 1680.9 375.6 1691.8 383.3 1697.4 C391 1703 394.6 1705.1 401.1 1711.6 C407.6 1718.1 415.9 1724.1 422.4 1736.5 C428.9 1748.9 436.6 1768.5 440.1 1786.2 C443.7 1804 442.5 1825.3 443.7 1843 C444.9 1860.7 446.6 1882.4 447.2 1892.6 C447.8 1902.8 520 1902.1 447.5 1904 C375 1905.9 84.4 1905.1 12 1904Z" fill="#fff" stroke="none" stroke-width="0" />
<path d="M137 1668.7 C139.5 1662.8 143.2 1663 148.1 1660.4 C153 1657.8 160.5 1654.8 166.7 1653 C172.9 1651.2 179 1649.3 185.2 1649.3 C191.4 1649.3 198.1 1650.8 203.7 1653 C209.2 1655.2 215.1 1659.1 218.5 1662.2 C221.9 1665.3 222.6 1669.2 224.1 1671.5 C225.6 1673.8 225.8 1677.3 227.5 1676 C229.2 1674.7 227.9 1667.5 234.3 1663.7 C240.8 1659.9 255.2 1654.3 266.2 1653.1 C277.1 1651.9 291.9 1655 300 1656.5 C308.1 1658 310.6 1658.1 315 1662 C319.4 1665.9 325.5 1675 326.5 1679.7 C327.5 1684.4 321.5 1683.8 321.2 1690.3 C320.9 1696.8 325.7 1709.6 324.8 1718.7 C323.9 1727.8 318.7 1737.3 316 1745 C313.3 1752.7 310.6 1760.4 308.8 1764.9 C307 1769.4 308.2 1772.3 305.2 1772 C302.2 1771.7 298.1 1767.8 291 1763.1 C283.9 1758.4 271.2 1748.2 262.7 1743.6 C254.2 1739 249.8 1736.5 240 1735.4 C230.2 1734.3 214.4 1735.8 203.7 1737.2 C193 1738.6 183.6 1741.1 175.9 1743.7 C168.2 1746.3 162 1749.3 157.4 1753 C152.8 1756.7 150.3 1763.8 148.1 1765.9 C145.9 1768.1 145.5 1768.1 144.4 1765.9 C143.3 1763.8 142.9 1757.9 141.7 1753 C140.5 1748.1 138.6 1742.2 137 1736.3 C135.4 1730.4 133 1724.6 132.4 1717.8 C131.8 1711 132.5 1703.8 133.3 1695.6 C134.1 1687.4 134.5 1674.6 137 1668.7Z" fill="#ecd9eb" stroke="none" stroke-width="0" />
<path d="M148.1 1765.9 C149.7 1763.8 152.8 1756.7 157.4 1753 C162 1749.3 168.2 1746.3 175.9 1743.7 C183.6 1741.1 193 1738.6 203.7 1737.2 C214.4 1735.8 230.2 1734.3 240 1735.4 C249.8 1736.5 254.2 1739 262.7 1743.6 C271.2 1748.2 285.7 1759.2 291 1763.1 C296.3 1766.9 294 1766.1 294.6 1766.7 L243.1 1795 L231.5 1780.7 L224.1 1772.4 L213 1784.4 L202.8 1792.8 Z" fill="#e9eff8" stroke="none" stroke-width="0" />
<path d="M140.7 1769.6 C139.8 1772.7 136.4 1781.9 135.2 1788.1 C134 1794.3 133.3 1800.5 133.3 1806.7 C133.3 1812.9 133.3 1819 135.2 1825.2 C137 1831.4 139.8 1837.5 144.4 1843.7 C149 1849.9 156.2 1857.3 163 1862.2 C169.8 1867.1 176.9 1870.2 185.2 1873.3 C193.5 1876.4 206.6 1879.2 213 1880.7 C219.4 1882.2 219.1 1881.9 223.6 1882 C228.1 1882.1 232.9 1882.7 240 1881.5 C247.1 1880.3 256.5 1880.1 266.2 1874.9 C275.9 1869.7 290.4 1859.6 298.1 1850.1 C305.8 1840.6 310.3 1828.1 312.3 1818.1 C314.3 1808.1 311.2 1797.7 310 1790 C308.8 1782.3 306 1775 305.2 1772" fill="none" stroke="#151515" stroke-width="1.95"  stroke-linecap="round" stroke-linejoin="round"/>
<path d="M137 1668.7 C134.2 1668.4 126 1666.8 120.4 1666.9 C114.9 1667.1 109.3 1667.9 103.7 1669.6 C98.1 1671.3 91.3 1674.1 87 1677 C82.7 1679.9 80 1684.2 78 1687 C76 1689.8 76.3 1692 75 1694 C73.7 1696 73.6 1696 70.4 1699.3 C67.2 1702.6 61.2 1707.9 55.6 1714.1 C50 1720.3 42 1728.6 37 1736.3 C32 1744 28.5 1752.4 25.9 1760.4 C23.3 1768.4 21.6 1777.6 21.3 1784.4 C21 1791.2 21.5 1795.5 24.1 1801.1 C26.7 1806.7 31.8 1813.5 37 1817.8 C42.2 1822.1 49.4 1825 55.6 1827 C61.8 1829 67.9 1829.8 74.1 1829.8 C80.3 1829.8 86.4 1829 92.6 1827 C98.8 1825 105.5 1821.5 111.1 1817.8 C116.6 1814.1 121.7 1809.8 125.9 1804.8 C130.1 1799.8 133.5 1794 136.1 1788.1 C138.7 1782.2 140.9 1775.4 141.7 1769.6 C142.5 1763.8 141.5 1758.5 140.7 1753 C139.9 1747.5 138.4 1742.2 137 1736.3 C135.6 1730.4 133 1724.6 132.4 1717.8 C131.8 1711 132.5 1703.8 133.3 1695.6 C134.1 1687.4 136.4 1673.2 137 1668.7" fill="none" stroke="#151515" stroke-width="1.95"  stroke-linecap="round" stroke-linejoin="round"/>
<path d="M331.1 1678.9 C333.4 1678.7 339.9 1677.3 345 1677.5 C350.1 1677.7 356.5 1677.9 362 1680 C367.5 1682.1 373.9 1686.2 378 1690 C382.1 1693.8 383 1699.3 386.7 1703 C390.4 1706.7 395.4 1708.6 400 1712 C404.6 1715.4 410.1 1718.6 414.4 1723.3 C418.7 1728 422.9 1733.8 426 1740 C429.1 1746.2 430.8 1753 433 1760.4 C435.2 1767.8 438.8 1776.7 439.4 1784.4 C440 1792.1 439.3 1799.9 436.7 1806.7 C434.1 1813.5 428.9 1820.6 423.7 1825.2 C418.4 1829.8 412.3 1832.4 405.2 1834.4 C398.1 1836.4 388.8 1837.5 381.1 1837.2 C373.4 1836.9 366.6 1836.1 358.9 1832.6 C351.2 1829 341.9 1821.5 334.8 1815.9 C327.7 1810.4 320.9 1805.8 316.3 1799.3 C311.7 1792.8 308.2 1783.5 307 1777 C305.8 1770.5 306.7 1766.6 308.9 1760.4 C311.1 1754.2 317.1 1747.7 320 1740 C322.9 1732.3 325.9 1721.8 326.5 1714.1 C327.1 1706.4 323.8 1698.7 323.7 1693.7 C323.6 1688.8 324.4 1686.9 325.6 1684.4 C326.8 1681.9 330.2 1679.8 331.1 1678.9" fill="none" stroke="#151515" stroke-width="1.95"  stroke-linecap="round" stroke-linejoin="round"/>
<path d="M21.3 1784.4 C20.8 1791.2 19.4 1812.2 18.5 1825.2 C17.6 1838.2 16.6 1850.2 15.7 1862.2 C14.8 1874.2 13.4 1891.5 13 1897.4" fill="none" stroke="#151515" stroke-width="1.95"  stroke-linecap="round" stroke-linejoin="round"/>
<path d="M440.1 1786.2 C440.7 1795.7 442.6 1825.3 443.7 1843 C444.8 1860.7 446 1884.3 446.5 1892.6" fill="none" stroke="#151515" stroke-width="1.95"  stroke-linecap="round" stroke-linejoin="round"/>
<path d="M137 1668.7 C138.8 1667.3 143.2 1663 148.1 1660.4 C153 1657.8 160.5 1654.8 166.7 1653 C172.9 1651.2 179 1649.3 185.2 1649.3 C191.4 1649.3 198.1 1650.8 203.7 1653 C209.2 1655.2 215.1 1659.1 218.5 1662.2 C221.9 1665.3 223.2 1670 224.1 1671.5" fill="none" stroke="#151515" stroke-width="1.95"  stroke-linecap="round" stroke-linejoin="round"/>
<path d="M233 1673 C233.2 1671.5 231.5 1666.5 234.3 1663.7 C237.1 1661 244.7 1658.3 250 1656.5 C255.3 1654.7 259.5 1653.4 266.2 1653.1 C272.9 1652.8 282.9 1653.3 290 1654.5 C297.1 1655.7 303.8 1658 308.8 1660.2 C313.8 1662.5 317.1 1664.8 320 1668 C322.9 1671.2 325.4 1677.8 326.5 1679.7" fill="none" stroke="#151515" stroke-width="1.95"  stroke-linecap="round" stroke-linejoin="round"/>
<path d="M224.1 1671.5 L219.4 1679.8 L227.8 1689.1 L232.4 1684.4 L231.5 1675.2 L233 1673" fill="none" stroke="#151515" stroke-width="1.95" stroke-linejoin="round" stroke-linecap="round"/>
<path d="M143.5 1674.3 C147.4 1673.5 158.2 1670.1 166.7 1669.6 C175.2 1669.1 186.1 1670.3 194.4 1671.5 C202.7 1672.7 213 1676.1 216.7 1677" fill="none" stroke="#151515" stroke-width="1.95"  stroke-linecap="round" stroke-linejoin="round"/>
<path d="M234.3 1676.1 C239.6 1675.2 256.1 1671 266.2 1670.8 C276.3 1670.6 286.1 1672.9 295 1675 C303.9 1677.1 315.3 1681.8 319.4 1683.2" fill="none" stroke="#151515" stroke-width="1.95"  stroke-linecap="round" stroke-linejoin="round"/>
<path d="M134.3 1705.7 C138.2 1704.3 148.9 1699.4 157.4 1697.4 C165.9 1695.4 175.9 1694.2 185.2 1693.7 C194.5 1693.2 207.3 1694.3 213 1694.6 C218.7 1694.9 218.3 1695.4 219.4 1695.6" fill="none" stroke="#151515" stroke-width="1.95"  stroke-linecap="round" stroke-linejoin="round"/>
<path d="M230.6 1699.3 C233.8 1698.9 241.1 1697 250 1697 C258.9 1697 274.7 1697.7 283.9 1699.2 C293.1 1700.7 298.5 1703 305 1706 C311.5 1709 320 1715.2 323 1717" fill="none" stroke="#151515" stroke-width="1.95"  stroke-linecap="round" stroke-linejoin="round"/>
<path d="M146.3 1746.5 C149.7 1745.1 160.2 1740.7 166.7 1738.1 C173.2 1735.5 179 1732.5 185.2 1730.7 C191.4 1728.9 194.6 1727.8 203.7 1727 C212.8 1726.2 229 1725.1 240 1726.1 C251 1727.1 261.5 1729.8 269.8 1732.9 C278.1 1736.1 284.4 1740.5 290 1745 C295.6 1749.5 301.2 1757.2 303.5 1759.6" fill="none" stroke="#151515" stroke-width="1.95"  stroke-linecap="round" stroke-linejoin="round"/>
<path d="M148.1 1765.9 C149.7 1763.8 152.8 1756.7 157.4 1753 C162 1749.3 168.2 1746.3 175.9 1743.7 C183.6 1741.1 193 1738.6 203.7 1737.2 C214.4 1735.8 230.2 1734.3 240 1735.4 C249.8 1736.5 254.2 1739 262.7 1743.6 C271.2 1748.2 286.3 1759.8 291 1763.1" fill="none" stroke="#151515" stroke-width="1.95"  stroke-linecap="round" stroke-linejoin="round"/>
<path d="M148.1 1765.9 L202.8 1792.8" fill="none" stroke="#151515" stroke-width="1.95" stroke-linejoin="round" stroke-linecap="round"/>
<path d="M243.1 1795 L294.6 1766.7" fill="none" stroke="#151515" stroke-width="1.95" stroke-linejoin="round" stroke-linecap="round"/>
<path d="M202.8 1792.8 Q210 1789 213 1784.4 Q219 1777 224.1 1772.4 Q228 1775 231.5 1780.7 Q236 1788 243.1 1795 Q241 1803 240 1806.7 Q237 1818 233.3 1823.3 Q228 1828 222.2 1828 Q215 1824 211.1 1817.8 Q206 1807 203.7 1799.3 Z" fill="#fff" stroke="#151515" stroke-width="1.95" stroke-linejoin="round"/>
<circle cx="175.9" cy="1740.9" r="10.4" fill="#fbb12f" stroke="#3d2f12" stroke-width="1.1"/>
<circle cx="190.7" cy="1740" r="10.4" fill="#fbb12f" stroke="#3d2f12" stroke-width="1.1"/>
<circle cx="268" cy="1742.9" r="10.4" fill="#fbb12f" stroke="#3d2f12" stroke-width="1.1"/>
<circle cx="259.1" cy="1736.5" r="10.4" fill="#fbb12f" stroke="#3d2f12" stroke-width="1.1"/>
<text x="185.9" y="1719.3" font-size="24.8" text-anchor="start" fill="#111" >SC</text>
<text x="194.4" y="1764.1" font-size="25" text-anchor="start" fill="#111" >dPAG</text>
<text x="367.8" y="1889.1" font-size="29.8" text-anchor="start" fill="#111" >-4.72</text>
<path d="M720.8 1664.4 C719.3 1659.8 714.3 1649.7 711.6 1637 C708.9 1624.3 705.4 1604.1 704.6 1588.3 C703.8 1572.5 704.6 1555.1 706.9 1542 C709.2 1528.9 711.9 1521.9 718.5 1509.6 C725.1 1497.3 735.9 1480.3 746.3 1468 C756.7 1455.7 769.4 1444.9 781 1435.6 C792.6 1426.3 802.2 1419 815.7 1412.4 C829.2 1405.8 846.6 1399.9 862 1396.2 C877.4 1392.5 892.9 1391.2 908.3 1390.4 C923.7 1389.6 943 1389.9 954.6 1391.6 C966.2 1393.3 972 1397.7 977.8 1400.8 C983.6 1403.9 987.5 1408.5 989.4 1410.1" fill="none" stroke="#151515" stroke-width="1.95"  stroke-linecap="round" stroke-linejoin="round"/>
<path d="M989.4 1410.1 C991.8 1408.3 995.5 1401.6 1003.9 1399.1 C1012.3 1396.5 1023.8 1394.8 1039.8 1394.8 C1055.8 1394.8 1081.7 1395.6 1099.6 1399.1 C1117.5 1402.6 1132.2 1409.1 1147.4 1415.9 C1162.6 1422.7 1178.4 1431.7 1190.7 1440 C1203 1448.3 1212.2 1456.9 1221 1465.7 C1229.8 1474.5 1237.4 1483.3 1243.7 1492.9 C1250 1502.5 1254.5 1511.9 1258.8 1523.2 C1263.1 1534.5 1266.8 1547.1 1269.4 1561 C1272.1 1574.9 1273.7 1593.8 1274.7 1606.4 C1275.7 1619 1275.5 1625.8 1275.4 1636.6 C1275.3 1647.4 1274.2 1665.6 1273.9 1671.4" fill="none" stroke="#151515" stroke-width="1.95"  stroke-linecap="round" stroke-linejoin="round"/>
<path d="M989.4 1410.1 L989.4 1474.9" fill="none" stroke="#151515" stroke-width="1.95" stroke-linejoin="round" stroke-linecap="round"/>
<path d="M989.4 1474.9 C987.8 1477.1 983.1 1483.8 980 1488 C976.9 1492.2 972.3 1498.3 970.8 1500.4" fill="none" stroke="#151515" stroke-width="1.95"  stroke-linecap="round" stroke-linejoin="round"/>
<path d="M989.4 1474.9 C991 1478.2 995.9 1489.1 999.1 1494.8 C1002.3 1500.5 1006.7 1506.4 1008.7 1509.2 C1010.7 1512 1010.7 1511.2 1011.1 1511.6" fill="none" stroke="#151515" stroke-width="1.95"  stroke-linecap="round" stroke-linejoin="round"/>
<path d="M970.8 1500.4 C967.3 1500.9 956.5 1502.5 950 1503.5 C943.5 1504.5 936.1 1505.2 931.5 1506.2 C926.9 1507.2 923.8 1509 922.2 1509.6" fill="none" stroke="#151515" stroke-width="1.95"  stroke-linecap="round" stroke-linejoin="round"/>
<path d="M1011.1 1511.6 C1014.2 1511.9 1023.6 1512.9 1030 1513.5 C1036.4 1514.1 1046.2 1514.8 1049.4 1515.1" fill="none" stroke="#151515" stroke-width="1.95"  stroke-linecap="round" stroke-linejoin="round"/>
<path d="M759 1655 C758.2 1643.9 754.2 1607.1 754.4 1588.3 C754.6 1569.5 756.2 1555.1 760.2 1542 C764.2 1528.9 770.6 1519.6 778.7 1509.6 C786.8 1499.6 798.8 1489.6 808.8 1481.9 C818.8 1474.2 826.2 1468.9 838.9 1463.3 C851.6 1457.7 869.8 1452.9 885.2 1448.3 C900.6 1443.7 921.9 1436.2 931.5 1435.6 C941.1 1435 939.5 1439.8 943 1444.8 C946.5 1449.8 950.4 1459.6 952.3 1465.6 C954.2 1471.6 954.2 1478.2 954.6 1480.7" fill="none" stroke="#151515" stroke-width="1.95"  stroke-linecap="round" stroke-linejoin="round"/>
<path d="M775.5 1640 C774.1 1631.4 767.3 1603.8 767.1 1588.3 C766.9 1572.8 769.1 1559.8 774.1 1546.7 C779.1 1533.6 788 1520.8 797.2 1509.6 C806.5 1498.4 818.8 1487.6 829.6 1479.5 C840.4 1471.4 850.8 1465.4 862 1461 C873.2 1456.6 888.3 1453.3 896.8 1452.9 C905.3 1452.5 908.8 1455.4 913 1458.7 C917.2 1462 918.7 1468.5 922.2 1472.6 C925.7 1476.6 929.9 1480.9 933.8 1483 C937.7 1485.1 943.5 1484.9 945.4 1485.3" fill="none" stroke="#151515" stroke-width="1.95"  stroke-linecap="round" stroke-linejoin="round"/>
<path d="M831.9 1525.8 C835 1523.5 841.6 1517 850.5 1512 C859.4 1507 877.1 1499.2 885.2 1495.7 C893.3 1492.2 894.5 1491.3 899.1 1491.1 C903.7 1490.9 909.7 1492.7 913 1494.6 C916.3 1496.5 917.8 1501.3 918.8 1502.7" fill="none" stroke="#151515" stroke-width="1.95"  stroke-linecap="round" stroke-linejoin="round"/>
<path d="M832.5 1628 C832.8 1621.4 832.5 1598.8 834.3 1588.3 C836.1 1577.8 838.9 1572.1 843.5 1565.2 C848.1 1558.3 855 1551.7 862 1546.7 C869 1541.7 879.4 1538.2 885.2 1535.1 C891 1532 894.9 1529.3 896.8 1528.1" fill="none" stroke="#151515" stroke-width="1.95"  stroke-linecap="round" stroke-linejoin="round"/>
<path d="M915.3 1479.5 C913.4 1477.6 908.7 1470.3 903.7 1468 C898.7 1465.7 894.1 1464.1 885.2 1465.6 C876.3 1467.1 862.1 1471.4 850.5 1477.2 C838.9 1483 825.4 1491.5 815.7 1500.4 C806.1 1509.3 798 1519.7 792.6 1530.5 C787.2 1541.3 784.8 1555.6 783.3 1565.2 C781.8 1574.8 781.8 1582.7 783.3 1588.3 C784.8 1593.9 789.1 1597.6 792.6 1598.8 C796.1 1600 798.4 1600.1 804.2 1595.3 C810 1590.5 819.6 1578.7 827.3 1569.8 C835 1560.9 840.9 1550.1 850.5 1542 C860.1 1533.9 875.6 1527.4 885.2 1521.2 C894.8 1515 904.4 1507.7 908.3 1505" fill="none" stroke="#222" stroke-width="0.9" stroke-dasharray="2.2 1.6"/>
<path d="M835.4 1530.5 C839.1 1529 851 1523.1 857.4 1521.2 C863.8 1519.3 870.9 1519.3 873.6 1518.9" fill="none" stroke="#222" stroke-width="0.9" />
<path d="M836.6 1535.1 C840.8 1533.4 853.1 1527.8 862 1524.7 C870.9 1521.6 885.2 1517.9 889.8 1516.6" fill="none" stroke="#222" stroke-width="0.9" />
<path d="M845.8 1551.3 C849.3 1549 859.4 1542.4 866.7 1537.4 C874 1532.4 885.9 1523.9 889.8 1521.2" fill="none" stroke="#222" stroke-width="0.9" />
<path d="M918.8 1515.4 L929.2 1514.3 L930.3 1518.9 L924.5 1528.1 L923.4 1560.6 L903.7 1565.2 L885.2 1574.4 L880.6 1562.9 L889.8 1555.9 L889.8 1535.1 L894.4 1528.1" fill="#fff" stroke="#151515" stroke-width="1.95" stroke-linejoin="round" stroke-linecap="round"/>
<path d="M1020.7 1485.2 C1021.1 1481.6 1020.3 1470.3 1023.1 1463.7 C1025.9 1457.1 1029.4 1449 1037.4 1445.8 C1045.4 1442.6 1060.5 1443.8 1070.9 1444.6 C1081.3 1445.4 1090.1 1448.1 1100 1450.6 C1109.9 1453.1 1120.1 1455.2 1130.2 1459.7 C1140.3 1464.2 1150.4 1470.2 1160.5 1477.8 C1170.6 1485.3 1182.6 1495.7 1190.7 1505 C1198.8 1514.3 1203.9 1523.2 1208.9 1533.8 C1214 1544.4 1218 1556.5 1221 1568.6 C1224 1580.7 1225.7 1595.1 1227 1606.4 C1228.3 1617.7 1229.8 1625.8 1228.6 1636.6 C1227.3 1647.4 1221 1665.6 1219.5 1671.4" fill="none" stroke="#151515" stroke-width="1.95"  stroke-linecap="round" stroke-linejoin="round"/>
<path d="M1020.7 1485.2 C1022.2 1486.1 1026 1490.2 1030 1490.5 C1034 1490.8 1040.8 1489.6 1045 1487 C1049.2 1484.4 1052 1479.2 1055 1475 C1058 1470.8 1059.5 1465.1 1063 1462 C1066.5 1458.9 1069.5 1457.3 1075.7 1456.5 C1081.9 1455.7 1090.9 1455.4 1100 1457.4 C1109.1 1459.4 1120.1 1463.3 1130.2 1468.7 C1140.3 1474.1 1150.9 1481.6 1160.5 1489.9 C1170.1 1498.2 1180.4 1508.8 1187.7 1518.6 C1195 1528.4 1200.1 1538.1 1204.4 1548.9 C1208.7 1559.8 1211.7 1571.6 1213.4 1583.7 C1215.2 1595.8 1215.2 1611.4 1214.9 1621.5 C1214.7 1631.6 1214.8 1635.9 1211.9 1644.2 C1209 1652.5 1199.9 1666.9 1197.5 1671.4" fill="none" stroke="#151515" stroke-width="1.95"  stroke-linecap="round" stroke-linejoin="round"/>
<path d="M1049.4 1515.1 C1051 1513.3 1053.7 1507.6 1058.9 1504.4 C1064.1 1501.2 1073.7 1497.4 1080.5 1496 C1087.3 1494.6 1093 1494.8 1100 1496 C1107 1497.2 1116.4 1500.5 1122.7 1503.5 C1129 1506.5 1133.3 1510.2 1137.8 1514.1 C1142.3 1518 1147.9 1524.8 1149.9 1527" fill="none" stroke="#151515" stroke-width="1.95"  stroke-linecap="round" stroke-linejoin="round"/>
<path d="M1101.5 1538.3 C1105 1539.6 1116.7 1542.1 1122.7 1545.9 C1128.8 1549.7 1133.5 1555.5 1137.8 1561 C1142.1 1566.5 1145.5 1572.8 1148.4 1579.1 C1151.3 1585.4 1153.9 1593.5 1155.2 1598.8 C1156.5 1604.1 1156.4 1607.1 1156 1610.9 C1155.6 1614.7 1153.4 1619.7 1152.9 1621.5" fill="none" stroke="#151515" stroke-width="1.95"  stroke-linecap="round" stroke-linejoin="round"/>
<path d="M1088.8 1468.5 C1090.7 1468.9 1093.1 1469.2 1100 1471 C1106.9 1472.8 1121.4 1474.9 1130.2 1479.3 C1139 1483.7 1145.8 1491 1152.9 1497.5 C1160 1504 1167 1510 1172.6 1518.6 C1178.1 1527.2 1183 1539.3 1186.2 1548.9 C1189.4 1558.5 1190.5 1566.5 1191.5 1576.1 C1192.5 1585.7 1192.9 1599.6 1192.3 1606.4 C1191.7 1613.2 1189.5 1615.5 1187.7 1617 C1185.9 1618.5 1184 1618.4 1181.7 1615.4 C1179.4 1612.4 1177.1 1605.3 1174.1 1598.8 C1171.1 1592.2 1167.8 1583.7 1163.5 1576.1 C1159.2 1568.5 1154 1560.5 1148.4 1553.4 C1142.9 1546.4 1135.8 1538.6 1130.2 1533.8 C1124.7 1529 1120.1 1528 1115.1 1524.7 C1110.1 1521.4 1107.8 1515.8 1100 1514 C1092.2 1512.2 1074.3 1514.8 1068.5 1514 C1062.7 1513.2 1064.5 1510.4 1064.9 1509.2 C1065.3 1508 1065.1 1507 1070.9 1506.8 C1076.8 1506.6 1095.2 1507.9 1100 1508.1" fill="none" stroke="#222" stroke-width="0.9" stroke-dasharray="2.2 1.6"/>
<path d="M1106 1517.9 C1108.8 1519 1116.7 1521.8 1122.7 1524.7 C1128.8 1527.6 1139 1533.5 1142.3 1535.3" fill="none" stroke="#222" stroke-width="0.9" />
<path d="M1104 1512 C1107.5 1513 1118.2 1515 1125 1518 C1131.8 1521 1141.7 1528 1145 1530" fill="none" stroke="#222" stroke-width="0.9" />
<path d="M1100 1527 C1101.7 1527.8 1107.3 1529.7 1110 1532 C1112.7 1534.3 1115 1539.5 1116 1541" fill="none" stroke="#222" stroke-width="0.9" />
<path d="M1060.1 1528.3 L1063.7 1526.4 L1075.7 1533.1 L1070.9 1569 L1109.2 1573.8 L1111.6 1558.2 L1102 1547.4 L1100.8 1535.5" fill="#fff" stroke="#151515" stroke-width="1.95" stroke-linejoin="round" stroke-linecap="round"/>
<path d="M982.4 1512.8 C984 1512.2 988 1509.2 992 1509.2 C996 1509.2 1003.9 1512.2 1006.3 1512.8" fill="none" stroke="#151515" stroke-width="1.95"  stroke-linecap="round" stroke-linejoin="round"/>
<path d="M982.4 1514 Q985 1526 989.6 1535.5 Q995 1526 1000.3 1514 Q991 1511 982.4 1514Z" fill="#fff" stroke="#151515" stroke-width="1.95" stroke-linejoin="round"/>
<path d="M969.7 1598.8 C969.5 1595.1 968.1 1583.9 968.5 1576.8 C968.9 1569.7 969.7 1560.5 972 1555.9 C974.3 1551.3 978.7 1550.4 982.4 1549 C986.1 1547.6 990 1546.1 994.4 1547.4 C998.8 1548.7 1005.7 1552.2 1008.7 1557 C1011.7 1561.8 1011.7 1569.5 1012.3 1576.1 C1012.9 1582.7 1012.3 1593.1 1012.3 1596.5" fill="none" stroke="#222" stroke-width="0.9" stroke-dasharray="2.2 1.6"/>
<line x1="990" y1="1560.6" x2="990" y2="1617.3" stroke="#151515" stroke-width="3" />
<circle cx="905.6" cy="1518.2" r="10.9" fill="#fbb12f" stroke="#3d2f12" stroke-width="1.1"/>
<circle cx="1089.3" cy="1527.1" r="10.8" fill="#fbb12f" stroke="#3d2f12" stroke-width="1.1"/>
<text x="1124.4" y="1663.1" font-size="29.3" text-anchor="start" fill="#111" >-2.70</text>
<path d="M614 1904 C514.5 1899.5 614.2 1890.7 616 1876.7 C617.8 1862.7 620 1839.7 624.7 1819.9 C629.4 1800.1 636.2 1776.6 644.4 1758.1 C652.6 1739.6 663 1723.2 674.1 1708.8 C685.2 1694.4 698.8 1682.4 711.1 1671.7 C723.4 1661 735.8 1651.6 748.1 1644.6 C760.5 1637.6 770.8 1633.6 785.2 1629.8 C799.6 1626 820.2 1623.4 834.6 1621.9 C849 1620.5 861.3 1619.8 871.6 1621.1 C881.9 1622.4 890.5 1625.9 896.3 1629.8 C902.1 1633.7 903.9 1640.2 906.2 1644.6 C908.5 1649 907.6 1657.2 909.9 1656 C912.2 1654.8 913.2 1641.9 919.8 1637.2 C926.4 1632.5 936.2 1628.2 949.4 1627.8 C962.6 1627.4 982.3 1631.1 998.8 1634.7 C1015.2 1638.3 1031.6 1643.3 1048.1 1649.5 C1064.5 1655.7 1083.1 1662.7 1097.5 1671.7 C1111.9 1680.8 1122.2 1689.4 1134.6 1703.8 C1146.9 1718.2 1161.3 1738.8 1171.6 1758.1 C1181.9 1777.4 1189.7 1799.3 1196.3 1819.9 C1202.9 1840.5 1208.3 1867.6 1211.1 1881.6 C1213.9 1895.6 1312.5 1900.3 1213 1904 C1113.5 1907.7 713.5 1908.5 614 1904Z" fill="#fff" stroke="none" stroke-width="0" />
<path d="M616 1880 C617.5 1870 620 1840.2 624.7 1819.9 C629.4 1799.6 636.2 1776.6 644.4 1758.1 C652.6 1739.6 663 1723.2 674.1 1708.8 C685.2 1694.4 698.8 1682.4 711.1 1671.7 C723.4 1661 735.8 1651.6 748.1 1644.6 C760.5 1637.6 770.8 1633.6 785.2 1629.8 C799.6 1626 820.2 1623.4 834.6 1621.9 C849 1620.5 861.3 1619.8 871.6 1621.1 C881.9 1622.4 890.5 1625.9 896.3 1629.8 C902.1 1633.7 903.9 1640.1 906.2 1644.6 C908.5 1649.1 909.3 1654.9 909.9 1656.9" fill="none" stroke="#151515" stroke-width="1.95"  stroke-linecap="round" stroke-linejoin="round"/>
<path d="M909.9 1656 C911.5 1652.9 913.2 1641.9 919.8 1637.2 C926.4 1632.5 936.2 1628.2 949.4 1627.8 C962.6 1627.4 982.3 1631.1 998.8 1634.7 C1015.2 1638.3 1031.6 1643.3 1048.1 1649.5 C1064.5 1655.7 1083.1 1662.7 1097.5 1671.7 C1111.9 1680.8 1122.2 1689.4 1134.6 1703.8 C1146.9 1718.2 1161.3 1738.8 1171.6 1758.1 C1181.9 1777.4 1189.7 1799.3 1196.3 1819.9 C1202.9 1840.5 1208.6 1871.3 1211.1 1881.6" fill="none" stroke="#151515" stroke-width="1.95"  stroke-linecap="round" stroke-linejoin="round"/>
<path d="M909.9 1656 L909.9 1724.8" fill="none" stroke="#151515" stroke-width="1.95" stroke-linejoin="round" stroke-linecap="round"/>
<path d="M674.1 1881.6 C675.8 1875.4 679.1 1857.3 684 1844.6 C688.9 1831.8 697.7 1815.5 703.7 1805.1 C709.7 1794.6 713.4 1789.9 720 1781.9 C726.6 1773.9 735.4 1765.2 743.1 1757.2 C750.8 1749.2 758.6 1741 766.3 1734 C774 1727 781.7 1720.9 789.4 1715.5 C797.1 1710.1 804.9 1705.1 812.6 1701.6 C820.3 1698.1 828.5 1696.4 835.7 1694.7 C842.9 1693 851.4 1692 855.8 1691.6 C860.2 1691.2 860 1691.1 862 1692.3 C864 1693.5 865.3 1695.4 868.1 1698.5 C870.9 1701.6 875.4 1707.3 879 1710.9 C882.6 1714.5 884.7 1717.8 889.8 1720.1 C894.9 1722.4 906.5 1724 909.8 1724.8" fill="none" stroke="#151515" stroke-width="1.95"  stroke-linecap="round" stroke-linejoin="round"/>
<path d="M684 1881.6 C685.3 1875.5 688 1857.3 692 1845 C696 1832.7 703.3 1816.5 708 1808 C712.7 1799.5 715.4 1800.1 720 1794.2 C724.6 1788.3 730.8 1778.5 735.4 1772.6 C740 1766.7 745.7 1761 747.8 1758.7" fill="none" stroke="#151515" stroke-width="1.95"  stroke-linecap="round" stroke-linejoin="round"/>
<path d="M747.8 1758.7 C750.9 1755.3 759.4 1745 766.3 1738.6 C773.2 1732.2 781.7 1725.2 789.4 1720.1 C797.1 1715 804.9 1710.4 812.6 1707.8 C820.3 1705.2 829.3 1705 835.7 1704.7 C842.1 1704.4 846.1 1704.4 851.2 1706.2 C856.4 1708 861.5 1711.4 866.6 1715.5 C871.7 1719.6 876.9 1726 882 1730.9 C887.1 1735.8 892.9 1740.7 897.5 1744.8 C902.1 1748.9 907.8 1753.8 909.8 1755.6" fill="none" stroke="#151515" stroke-width="1.95"  stroke-linecap="round" stroke-linejoin="round"/>
<path d="M747.8 1758.7 C746.5 1761 741.9 1767.7 740.1 1772.6 C738.3 1777.5 737.3 1782.8 737 1788 C736.7 1793.2 737.2 1799.6 738.5 1803.5 C739.8 1807.4 741.4 1809.8 744.7 1811.2 C748.1 1812.6 752.4 1812.9 758.6 1811.9 C764.8 1810.9 774 1806.7 781.7 1805 C789.4 1803.3 797.2 1802.2 804.9 1801.9 C812.6 1801.7 820.3 1802.5 828 1803.5 C835.7 1804.5 844.8 1806.6 851.2 1808.1 C857.6 1809.6 861.5 1812.5 866.6 1812.7 C871.7 1813 878.1 1811.6 882 1809.6 C885.9 1807.5 888.2 1804 889.8 1800.4 C891.3 1796.8 891.3 1790.8 891.3 1788 C891.3 1785.2 888.8 1784.9 889.8 1783.4 C890.8 1781.9 894.9 1780.9 897.5 1778.8 C900.1 1776.7 903.4 1774.3 905.2 1771 C907 1767.7 907.5 1761.3 908.3 1758.7 C909.1 1756.1 909.5 1756.1 909.8 1755.6" fill="none" stroke="#151515" stroke-width="1.95"  stroke-linecap="round" stroke-linejoin="round"/>
<path d="M795.6 1761.8 C798.4 1760.2 807.2 1754.7 812.6 1752.5 C818 1750.3 822.9 1749 828 1748.7 C833.1 1748.5 838.4 1749.1 843.5 1751 C848.6 1752.9 853.8 1756.6 858.9 1760.2 C864 1763.8 869.1 1769 874.3 1772.6 C879.4 1776.2 887.2 1780.4 889.8 1781.9" fill="none" stroke="#151515" stroke-width="1.95"  stroke-linecap="round" stroke-linejoin="round"/>
<path d="M879 1755.6 C875.6 1752.8 866.1 1743.7 858.9 1738.6 C851.7 1733.5 843.4 1727.9 835.7 1724.8 C828 1721.7 820.3 1718.6 812.6 1720.1 C804.9 1721.6 797.1 1728.6 789.4 1734 C781.7 1739.4 771.7 1747.1 766.3 1752.5 C760.9 1757.9 758.8 1761 757 1766.4 C755.2 1771.8 754.5 1780.3 755.5 1784.9 C756.5 1789.5 758.8 1793.7 763.2 1794.2 C767.6 1794.7 774.8 1790.3 781.7 1788 C788.7 1785.7 798.5 1782 804.9 1780.3 C811.3 1778.6 814.4 1777.5 820.3 1778 C826.2 1778.5 835.2 1781.5 840.4 1783.4 C845.5 1785.3 849.4 1788.6 851.2 1789.6" fill="none" stroke="#222" stroke-width="0.9" stroke-dasharray="2.2 1.6"/>
<path d="M821.9 1764.1 C825.5 1765 836.8 1767 843.5 1769.5 C850.2 1772 857.1 1775.7 862 1778.8 C866.9 1781.9 872.8 1785.2 872.8 1788 C872.8 1790.8 866.9 1793.9 862 1795.7 C857.1 1797.5 850.7 1799.8 843.5 1798.8 C836.3 1797.8 822.9 1791.1 818.8 1789.6" fill="none" stroke="#222" stroke-width="0.9" stroke-dasharray="2.2 1.6"/>
<path d="M909.9 1724.8 C914.4 1723.8 930.4 1721.3 937 1718.6 C943.6 1715.9 945.3 1712.3 949.4 1708.8 C953.5 1705.3 957.6 1699.2 961.7 1697.7 C965.8 1696.2 967.9 1698.5 974.1 1700.1 C980.3 1701.7 988.5 1704.2 998.8 1707.5 C1009.1 1710.8 1025.5 1715.2 1035.8 1719.9 C1046.1 1724.6 1052.3 1728.7 1060.5 1735.9 C1068.7 1743.1 1077 1752 1085.2 1763.1 C1093.4 1774.2 1102.9 1789 1109.9 1802.6 C1116.9 1816.2 1122.7 1831.4 1127.2 1844.6 C1131.7 1857.8 1135.4 1875.4 1137 1881.6" fill="none" stroke="#151515" stroke-width="1.95"  stroke-linecap="round" stroke-linejoin="round"/>
<path d="M1075.3 1774.2 C1079 1779.3 1090.5 1794.6 1097.5 1805.1 C1104.5 1815.6 1111.1 1826.5 1117.3 1837.2 C1123.5 1847.9 1129.7 1861.9 1134.6 1869.3 C1139.5 1876.7 1144.9 1879.5 1146.9 1881.6" fill="none" stroke="#151515" stroke-width="1.95"  stroke-linecap="round" stroke-linejoin="round"/>
<path d="M909.9 1758.1 C912.4 1756 918.1 1751.1 924.7 1745.8 C931.3 1740.5 941.2 1730.9 949.4 1726 C957.6 1721.1 963.8 1717.4 974.1 1716.2 C984.4 1715 1000.8 1716.5 1011.1 1718.6 C1021.4 1720.6 1027.6 1723.2 1035.8 1728.5 C1044 1733.8 1053.9 1743.1 1060.5 1750.7 C1067.1 1758.3 1072.8 1770.3 1075.3 1774.2" fill="none" stroke="#151515" stroke-width="1.95"  stroke-linecap="round" stroke-linejoin="round"/>
<path d="M1075.3 1774.2 C1075.7 1776.9 1078.2 1785.1 1077.8 1790.2 C1077.4 1795.3 1076.1 1801.6 1072.8 1805.1 C1069.5 1808.6 1066.2 1810.4 1058 1811.2 C1049.8 1812 1034.2 1810.2 1023.5 1810 C1012.8 1809.8 1002 1809.2 993.8 1810 C985.6 1810.8 980.7 1813.2 974.1 1814.9 C967.5 1816.6 960.1 1819.9 954.3 1819.9 C948.5 1819.9 943.6 1817.8 939.5 1814.9 C935.4 1812 931.6 1807.1 929.6 1802.6 C927.6 1798.1 928.5 1791.6 927.2 1787.8 C925.9 1784 924 1783 922 1780 C920 1777 917 1773.7 915 1770 C913 1766.3 910.8 1760.1 909.9 1758.1" fill="none" stroke="#151515" stroke-width="1.95"  stroke-linecap="round" stroke-linejoin="round"/>
<path d="M956.8 1777.9 C959.7 1775.4 967.9 1766.6 974.1 1763.1 C980.3 1759.6 988 1757.3 993.8 1756.9 C999.5 1756.5 1004.1 1758.9 1008.6 1760.6 C1013.1 1762.2 1018.9 1765.8 1021 1766.8" fill="none" stroke="#151515" stroke-width="1.95"  stroke-linecap="round" stroke-linejoin="round"/>
<path d="M937 1763.1 C941.1 1759.8 953.5 1748.6 961.7 1743.3 C969.9 1738 979 1733.7 986.4 1731 C993.8 1728.3 999.2 1725.6 1006.2 1727.3 C1013.2 1729 1021.4 1734.9 1028.4 1740.9 C1035.4 1746.9 1042.8 1756.1 1048.1 1763.1 C1053.4 1770.1 1058.4 1777 1060.5 1782.8 C1062.6 1788.6 1062.2 1794.6 1060.5 1797.7 C1058.8 1800.8 1056.8 1802.2 1050.6 1801.4 C1044.4 1800.6 1032.1 1795.4 1023.5 1792.7 C1014.9 1790 1007 1786.1 998.8 1785.3 C990.6 1784.5 979.5 1786.3 974.1 1787.8 C968.8 1789.2 967.9 1793 966.7 1794" fill="none" stroke="#222" stroke-width="0.9" stroke-dasharray="2.2 1.6"/>
<path d="M944.4 1795.2 C947.3 1793.1 953.5 1786.7 961.7 1782.8 C969.9 1778.9 988.4 1773.5 993.8 1771.7" fill="none" stroke="#222" stroke-width="0.9" stroke-dasharray="2.2 1.6"/>
<path d="M895.9 1790.3 Q903 1796 905.2 1803.5 Q907.5 1812 907.5 1825 Q907.5 1836 909.8 1840.5 Q912.9 1836 913.5 1825 Q914 1812 917.3 1803.5 Q920 1797 924.7 1795.2" fill="none" stroke="#151515" stroke-width="1.95" stroke-linejoin="round"/>
<path d="M815.7 1801.9 C810.7 1802.7 804.1 1806 800.2 1809.6 C796.3 1813.2 794.8 1819.4 792.5 1823.5 C790.2 1827.6 786.9 1830.7 786.4 1834.3 C785.9 1837.9 787.5 1841.3 789.4 1845.1 C791.2 1848.9 793.3 1855.4 797.5 1856.9 C801.7 1858.5 808.6 1854.6 814.8 1854.4 C821 1854.2 828 1854.1 834.6 1855.7 C841.2 1857.3 849.2 1863.3 854.3 1864.3 C859.4 1865.3 863.3 1865.2 865.4 1861.9 C867.5 1858.6 866.7 1850.8 866.7 1844.6 C866.7 1838.4 866.6 1830.1 865.4 1824.8 C864.2 1819.5 862.7 1815.3 859.3 1812.5 C855.9 1809.7 849.9 1809.2 845 1808 C840.1 1806.8 834.9 1806 830 1805 C825.1 1804 820.7 1801.1 815.7 1801.9Z" fill="#dcebd0" stroke="#151515" stroke-width="1.95"  stroke-linecap="round" stroke-linejoin="round"/>
<path d="M956.8 1821.1 C961.9 1818.2 976.1 1816.6 986.4 1814.9 C996.7 1813.2 1011.5 1809.6 1018.5 1811.2 C1025.5 1812.8 1025.5 1820.1 1028.4 1824.8 C1031.3 1829.5 1035 1834.7 1035.8 1839.6 C1036.6 1844.5 1035.8 1849.9 1033.3 1854.4 C1030.8 1858.9 1026.8 1865.5 1021 1866.8 C1015.2 1868 1005.4 1862.7 998.8 1861.9 C992.2 1861.1 987.7 1860.3 981.5 1861.9 C975.3 1863.5 965.8 1872.5 961.7 1871.7 C957.6 1870.9 957.8 1863.5 956.8 1856.9 C955.8 1850.3 955.6 1838.2 955.6 1832.2 C955.6 1826.2 951.7 1824 956.8 1821.1Z" fill="#dcebd0" stroke="#151515" stroke-width="1.95"  stroke-linecap="round" stroke-linejoin="round"/>
<text x="802.9" y="1846.8" font-size="26" text-anchor="start" fill="#111" >LP</text>
<circle cx="835" cy="1806.5" r="10.2" fill="#fbb12f" stroke="#3d2f12" stroke-width="1.1"/>
<circle cx="846.5" cy="1819.7" r="10.2" fill="#fbb12f" stroke="#3d2f12" stroke-width="1.1"/>
<circle cx="863.5" cy="1838.2" r="10.2" fill="#fbb12f" stroke="#3d2f12" stroke-width="1.1"/>
<circle cx="982.7" cy="1812" r="10.2" fill="#fbb12f" stroke="#3d2f12" stroke-width="1.1"/>
<circle cx="961.7" cy="1833.5" r="10.2" fill="#fbb12f" stroke="#3d2f12" stroke-width="1.1"/>
<circle cx="1000" cy="1827.8" r="10.2" fill="#fbb12f" stroke="#3d2f12" stroke-width="1.1"/>
<text x="1051.8" y="1884.1" font-size="29.3" text-anchor="start" fill="#111" >-2.06</text>
<circle cx="815.5" cy="1177.3" r="10.9" fill="#fbb12f" stroke="#3d2f12" stroke-width="1.1"/>
<circle cx="815.5" cy="1218" r="10.9" fill="#8c6a2a" stroke="#3d2f12" stroke-width="1.1"/>
<text x="839.8" y="1184.6" font-size="29" text-anchor="start" fill="#222" >CNO (ChR2 stimulation)</text>
<text x="839.8" y="1225.7" font-size="29" text-anchor="start" fill="#222" >CNO (Spot stimulation)</text>
</svg>
</body></html>
